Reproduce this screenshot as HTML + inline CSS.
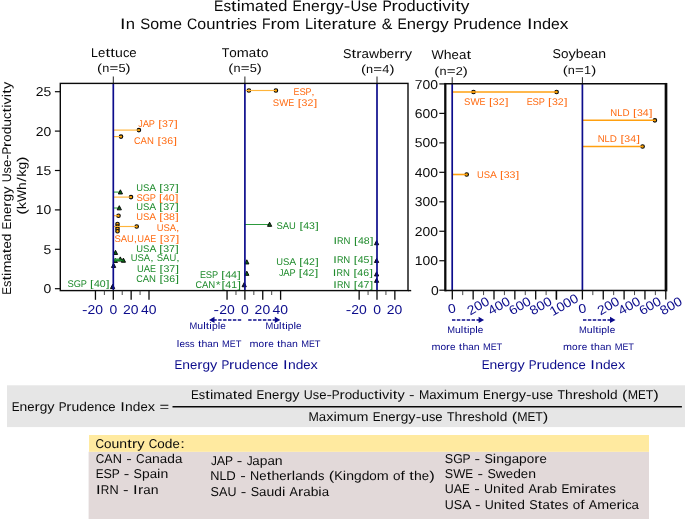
<!DOCTYPE html>
<html><head><meta charset="utf-8"><title>Energy-Use Productivity</title>
<style>
html,body{margin:0;padding:0;background:#fff;}
body{width:685px;height:519px;overflow:hidden;}
svg{display:block;font-family:"Liberation Sans",sans-serif;will-change:transform;text-rendering:geometricPrecision;}
</style></head><body>
<svg width="685" height="519" viewBox="0 0 685 519">
<rect x="0" y="0" width="685" height="519" fill="#ffffff"/>
<text y="11.10" font-size="15.22" fill="#0a0a0a"><tspan x="214.09" textLength="9.34" lengthAdjust="spacingAndGlyphs">E</tspan><tspan x="223.38" textLength="7.62" lengthAdjust="spacingAndGlyphs">s</tspan><tspan x="231.14" textLength="5.50" lengthAdjust="spacingAndGlyphs">t</tspan><tspan x="236.77" textLength="4.01" lengthAdjust="spacingAndGlyphs">i</tspan><tspan x="240.78" textLength="14.23" lengthAdjust="spacingAndGlyphs">m</tspan><tspan x="255.01" textLength="8.79" lengthAdjust="spacingAndGlyphs">a</tspan><tspan x="263.94" textLength="5.50" lengthAdjust="spacingAndGlyphs">t</tspan><tspan x="269.57" textLength="8.72" lengthAdjust="spacingAndGlyphs">e</tspan><tspan x="278.29" textLength="9.11" lengthAdjust="spacingAndGlyphs">d</tspan> <tspan x="292.51" textLength="9.34" lengthAdjust="spacingAndGlyphs">E</tspan><tspan x="301.80" textLength="9.26" lengthAdjust="spacingAndGlyphs">n</tspan><tspan x="311.06" textLength="8.72" lengthAdjust="spacingAndGlyphs">e</tspan><tspan x="319.78" textLength="6.25" lengthAdjust="spacingAndGlyphs">r</tspan><tspan x="326.03" textLength="9.11" lengthAdjust="spacingAndGlyphs">g</tspan><tspan x="335.14" textLength="8.66" lengthAdjust="spacingAndGlyphs">y</tspan><tspan x="343.83" textLength="6.59" lengthAdjust="spacingAndGlyphs">-</tspan><tspan x="350.45" textLength="10.71" lengthAdjust="spacingAndGlyphs">U</tspan><tspan x="361.16" textLength="7.62" lengthAdjust="spacingAndGlyphs">s</tspan><tspan x="368.78" textLength="8.72" lengthAdjust="spacingAndGlyphs">e</tspan> <tspan x="382.39" textLength="9.34" lengthAdjust="spacingAndGlyphs">P</tspan><tspan x="391.47" textLength="6.25" lengthAdjust="spacingAndGlyphs">r</tspan><tspan x="397.72" textLength="8.88" lengthAdjust="spacingAndGlyphs">o</tspan><tspan x="406.60" textLength="9.11" lengthAdjust="spacingAndGlyphs">d</tspan><tspan x="415.71" textLength="9.26" lengthAdjust="spacingAndGlyphs">u</tspan><tspan x="424.97" textLength="7.62" lengthAdjust="spacingAndGlyphs">c</tspan><tspan x="432.73" textLength="5.50" lengthAdjust="spacingAndGlyphs">t</tspan><tspan x="438.36" textLength="4.01" lengthAdjust="spacingAndGlyphs">i</tspan><tspan x="442.37" textLength="8.66" lengthAdjust="spacingAndGlyphs">v</tspan><tspan x="451.03" textLength="4.01" lengthAdjust="spacingAndGlyphs">i</tspan><tspan x="455.17" textLength="5.50" lengthAdjust="spacingAndGlyphs">t</tspan><tspan x="460.80" textLength="8.66" lengthAdjust="spacingAndGlyphs">y</tspan></text>
<text y="29.10" font-size="15.19" fill="#0a0a0a"><tspan x="119.96" textLength="5.49" lengthAdjust="spacingAndGlyphs">I</tspan><tspan x="125.78" textLength="9.25" lengthAdjust="spacingAndGlyphs">n</tspan> <tspan x="140.17" textLength="9.99" lengthAdjust="spacingAndGlyphs">S</tspan><tspan x="150.17" textLength="8.87" lengthAdjust="spacingAndGlyphs">o</tspan><tspan x="159.04" textLength="14.22" lengthAdjust="spacingAndGlyphs">m</tspan><tspan x="173.25" textLength="8.71" lengthAdjust="spacingAndGlyphs">e</tspan> <tspan x="187.10" textLength="10.20" lengthAdjust="spacingAndGlyphs">C</tspan><tspan x="197.30" textLength="8.87" lengthAdjust="spacingAndGlyphs">o</tspan><tspan x="206.17" textLength="9.25" lengthAdjust="spacingAndGlyphs">u</tspan><tspan x="215.42" textLength="9.25" lengthAdjust="spacingAndGlyphs">n</tspan><tspan x="224.80" textLength="5.49" lengthAdjust="spacingAndGlyphs">t</tspan><tspan x="230.42" textLength="6.24" lengthAdjust="spacingAndGlyphs">r</tspan><tspan x="236.66" textLength="4.00" lengthAdjust="spacingAndGlyphs">i</tspan><tspan x="240.66" textLength="8.71" lengthAdjust="spacingAndGlyphs">e</tspan><tspan x="249.37" textLength="7.61" lengthAdjust="spacingAndGlyphs">s</tspan> <tspan x="262.06" textLength="8.54" lengthAdjust="spacingAndGlyphs">F</tspan><tspan x="270.53" textLength="6.24" lengthAdjust="spacingAndGlyphs">r</tspan><tspan x="276.76" textLength="8.87" lengthAdjust="spacingAndGlyphs">o</tspan><tspan x="285.63" textLength="14.22" lengthAdjust="spacingAndGlyphs">m</tspan> <tspan x="304.99" textLength="8.14" lengthAdjust="spacingAndGlyphs">L</tspan><tspan x="313.13" textLength="4.00" lengthAdjust="spacingAndGlyphs">i</tspan><tspan x="317.27" textLength="5.49" lengthAdjust="spacingAndGlyphs">t</tspan><tspan x="322.89" textLength="8.71" lengthAdjust="spacingAndGlyphs">e</tspan><tspan x="331.59" textLength="6.24" lengthAdjust="spacingAndGlyphs">r</tspan><tspan x="337.83" textLength="8.78" lengthAdjust="spacingAndGlyphs">a</tspan><tspan x="346.75" textLength="5.49" lengthAdjust="spacingAndGlyphs">t</tspan><tspan x="352.37" textLength="9.25" lengthAdjust="spacingAndGlyphs">u</tspan><tspan x="361.62" textLength="6.24" lengthAdjust="spacingAndGlyphs">r</tspan><tspan x="367.86" textLength="8.71" lengthAdjust="spacingAndGlyphs">e</tspan> <tspan x="381.71" textLength="10.62" lengthAdjust="spacingAndGlyphs">&amp;</tspan> <tspan x="397.43" textLength="9.32" lengthAdjust="spacingAndGlyphs">E</tspan><tspan x="406.70" textLength="9.25" lengthAdjust="spacingAndGlyphs">n</tspan><tspan x="415.95" textLength="8.71" lengthAdjust="spacingAndGlyphs">e</tspan><tspan x="424.66" textLength="6.24" lengthAdjust="spacingAndGlyphs">r</tspan><tspan x="430.90" textLength="9.10" lengthAdjust="spacingAndGlyphs">g</tspan><tspan x="440.00" textLength="8.65" lengthAdjust="spacingAndGlyphs">y</tspan> <tspan x="453.54" textLength="9.32" lengthAdjust="spacingAndGlyphs">P</tspan><tspan x="462.60" textLength="6.24" lengthAdjust="spacingAndGlyphs">r</tspan><tspan x="468.84" textLength="9.25" lengthAdjust="spacingAndGlyphs">u</tspan><tspan x="478.09" textLength="9.10" lengthAdjust="spacingAndGlyphs">d</tspan><tspan x="487.19" textLength="8.71" lengthAdjust="spacingAndGlyphs">e</tspan><tspan x="495.90" textLength="9.25" lengthAdjust="spacingAndGlyphs">n</tspan><tspan x="505.15" textLength="7.61" lengthAdjust="spacingAndGlyphs">c</tspan><tspan x="512.76" textLength="8.71" lengthAdjust="spacingAndGlyphs">e</tspan> <tspan x="526.94" textLength="5.49" lengthAdjust="spacingAndGlyphs">I</tspan><tspan x="532.76" textLength="9.25" lengthAdjust="spacingAndGlyphs">n</tspan><tspan x="542.01" textLength="9.10" lengthAdjust="spacingAndGlyphs">d</tspan><tspan x="551.11" textLength="8.71" lengthAdjust="spacingAndGlyphs">e</tspan><tspan x="559.82" textLength="8.65" lengthAdjust="spacingAndGlyphs">x</tspan></text>
<text y="57.20" font-size="12.84" fill="#0a0a0a"><tspan x="91.11" textLength="6.88" lengthAdjust="spacingAndGlyphs">L</tspan><tspan x="97.99" textLength="7.36" lengthAdjust="spacingAndGlyphs">e</tspan><tspan x="105.46" textLength="4.64" lengthAdjust="spacingAndGlyphs">t</tspan><tspan x="110.33" textLength="4.64" lengthAdjust="spacingAndGlyphs">t</tspan><tspan x="115.08" textLength="7.82" lengthAdjust="spacingAndGlyphs">u</tspan><tspan x="122.90" textLength="6.43" lengthAdjust="spacingAndGlyphs">c</tspan><tspan x="129.33" textLength="7.36" lengthAdjust="spacingAndGlyphs">e</tspan></text>
<text y="72.30" font-size="11.65" fill="#0a0a0a"><tspan x="97.10" textLength="5.04" lengthAdjust="spacingAndGlyphs">(</tspan><tspan x="102.16" textLength="7.09" lengthAdjust="spacingAndGlyphs">n</tspan><tspan x="109.41" textLength="8.84" lengthAdjust="spacingAndGlyphs">=</tspan><tspan x="118.41" textLength="7.12" lengthAdjust="spacingAndGlyphs">5</tspan><tspan x="125.56" textLength="5.04" lengthAdjust="spacingAndGlyphs">)</tspan></text>
<text y="56.90" font-size="12.84" fill="#0a0a0a"><tspan x="221.70" textLength="7.61" lengthAdjust="spacingAndGlyphs">T</tspan><tspan x="229.30" textLength="7.50" lengthAdjust="spacingAndGlyphs">o</tspan><tspan x="236.80" textLength="12.02" lengthAdjust="spacingAndGlyphs">m</tspan><tspan x="248.82" textLength="7.42" lengthAdjust="spacingAndGlyphs">a</tspan><tspan x="256.35" textLength="4.64" lengthAdjust="spacingAndGlyphs">t</tspan><tspan x="261.11" textLength="7.50" lengthAdjust="spacingAndGlyphs">o</tspan></text>
<text y="72.20" font-size="11.65" fill="#0a0a0a"><tspan x="228.35" textLength="5.04" lengthAdjust="spacingAndGlyphs">(</tspan><tspan x="233.41" textLength="7.09" lengthAdjust="spacingAndGlyphs">n</tspan><tspan x="240.66" textLength="8.84" lengthAdjust="spacingAndGlyphs">=</tspan><tspan x="249.66" textLength="7.12" lengthAdjust="spacingAndGlyphs">5</tspan><tspan x="256.81" textLength="5.04" lengthAdjust="spacingAndGlyphs">)</tspan></text>
<text y="58.10" font-size="12.84" fill="#0a0a0a"><tspan x="343.04" textLength="8.45" lengthAdjust="spacingAndGlyphs">S</tspan><tspan x="351.60" textLength="4.64" lengthAdjust="spacingAndGlyphs">t</tspan><tspan x="356.35" textLength="5.27" lengthAdjust="spacingAndGlyphs">r</tspan><tspan x="361.62" textLength="7.42" lengthAdjust="spacingAndGlyphs">a</tspan><tspan x="369.05" textLength="10.10" lengthAdjust="spacingAndGlyphs">w</tspan><tspan x="379.15" textLength="7.69" lengthAdjust="spacingAndGlyphs">b</tspan><tspan x="386.84" textLength="7.36" lengthAdjust="spacingAndGlyphs">e</tspan><tspan x="394.20" textLength="5.27" lengthAdjust="spacingAndGlyphs">r</tspan><tspan x="399.48" textLength="5.27" lengthAdjust="spacingAndGlyphs">r</tspan><tspan x="404.75" textLength="7.31" lengthAdjust="spacingAndGlyphs">y</tspan></text>
<text y="73.40" font-size="11.65" fill="#0a0a0a"><tspan x="361.05" textLength="5.04" lengthAdjust="spacingAndGlyphs">(</tspan><tspan x="366.11" textLength="7.09" lengthAdjust="spacingAndGlyphs">n</tspan><tspan x="373.36" textLength="8.84" lengthAdjust="spacingAndGlyphs">=</tspan><tspan x="382.36" textLength="7.12" lengthAdjust="spacingAndGlyphs">4</tspan><tspan x="389.51" textLength="5.04" lengthAdjust="spacingAndGlyphs">)</tspan></text>
<text y="58.70" font-size="12.84" fill="#0a0a0a"><tspan x="431.56" textLength="12.21" lengthAdjust="spacingAndGlyphs">W</tspan><tspan x="443.77" textLength="7.82" lengthAdjust="spacingAndGlyphs">h</tspan><tspan x="451.59" textLength="7.36" lengthAdjust="spacingAndGlyphs">e</tspan><tspan x="458.95" textLength="7.42" lengthAdjust="spacingAndGlyphs">a</tspan><tspan x="466.49" textLength="4.64" lengthAdjust="spacingAndGlyphs">t</tspan></text>
<text y="74.50" font-size="11.65" fill="#0a0a0a"><tspan x="434.35" textLength="5.04" lengthAdjust="spacingAndGlyphs">(</tspan><tspan x="439.41" textLength="7.09" lengthAdjust="spacingAndGlyphs">n</tspan><tspan x="446.66" textLength="8.84" lengthAdjust="spacingAndGlyphs">=</tspan><tspan x="455.66" textLength="7.12" lengthAdjust="spacingAndGlyphs">2</tspan><tspan x="462.81" textLength="5.04" lengthAdjust="spacingAndGlyphs">)</tspan></text>
<text y="58.00" font-size="12.84" fill="#0a0a0a"><tspan x="552.53" textLength="8.45" lengthAdjust="spacingAndGlyphs">S</tspan><tspan x="560.97" textLength="7.50" lengthAdjust="spacingAndGlyphs">o</tspan><tspan x="568.47" textLength="7.31" lengthAdjust="spacingAndGlyphs">y</tspan><tspan x="575.78" textLength="7.69" lengthAdjust="spacingAndGlyphs">b</tspan><tspan x="583.47" textLength="7.36" lengthAdjust="spacingAndGlyphs">e</tspan><tspan x="590.83" textLength="7.42" lengthAdjust="spacingAndGlyphs">a</tspan><tspan x="598.26" textLength="7.82" lengthAdjust="spacingAndGlyphs">n</tspan></text>
<text y="73.80" font-size="11.65" fill="#0a0a0a"><tspan x="562.80" textLength="5.04" lengthAdjust="spacingAndGlyphs">(</tspan><tspan x="567.86" textLength="7.09" lengthAdjust="spacingAndGlyphs">n</tspan><tspan x="575.11" textLength="8.84" lengthAdjust="spacingAndGlyphs">=</tspan><tspan x="584.11" textLength="7.12" lengthAdjust="spacingAndGlyphs">1</tspan><tspan x="591.26" textLength="5.04" lengthAdjust="spacingAndGlyphs">)</tspan></text>
<g transform="translate(10.8,293.3) rotate(-90)">
<text y="0.00" font-size="12.69" fill="#0a0a0a"><tspan x="-1.49" textLength="7.79" lengthAdjust="spacingAndGlyphs">E</tspan><tspan x="6.25" textLength="6.36" lengthAdjust="spacingAndGlyphs">s</tspan><tspan x="12.72" textLength="4.58" lengthAdjust="spacingAndGlyphs">t</tspan><tspan x="17.42" textLength="3.34" lengthAdjust="spacingAndGlyphs">i</tspan><tspan x="20.76" textLength="11.87" lengthAdjust="spacingAndGlyphs">m</tspan><tspan x="32.63" textLength="7.33" lengthAdjust="spacingAndGlyphs">a</tspan><tspan x="40.07" textLength="4.58" lengthAdjust="spacingAndGlyphs">t</tspan><tspan x="44.77" textLength="7.27" lengthAdjust="spacingAndGlyphs">e</tspan><tspan x="52.04" textLength="7.60" lengthAdjust="spacingAndGlyphs">d</tspan> <tspan x="63.90" textLength="7.79" lengthAdjust="spacingAndGlyphs">E</tspan><tspan x="71.65" textLength="7.72" lengthAdjust="spacingAndGlyphs">n</tspan><tspan x="79.37" textLength="7.27" lengthAdjust="spacingAndGlyphs">e</tspan><tspan x="86.64" textLength="5.21" lengthAdjust="spacingAndGlyphs">r</tspan><tspan x="91.85" textLength="7.60" lengthAdjust="spacingAndGlyphs">g</tspan><tspan x="99.45" textLength="7.22" lengthAdjust="spacingAndGlyphs">y</tspan> <tspan x="110.97" textLength="8.93" lengthAdjust="spacingAndGlyphs">U</tspan><tspan x="119.90" textLength="6.36" lengthAdjust="spacingAndGlyphs">s</tspan><tspan x="126.25" textLength="7.27" lengthAdjust="spacingAndGlyphs">e</tspan><tspan x="133.55" textLength="5.49" lengthAdjust="spacingAndGlyphs">-</tspan><tspan x="138.85" textLength="7.79" lengthAdjust="spacingAndGlyphs">P</tspan><tspan x="146.42" textLength="5.21" lengthAdjust="spacingAndGlyphs">r</tspan><tspan x="151.63" textLength="7.41" lengthAdjust="spacingAndGlyphs">o</tspan><tspan x="159.03" textLength="7.60" lengthAdjust="spacingAndGlyphs">d</tspan><tspan x="166.63" textLength="7.72" lengthAdjust="spacingAndGlyphs">u</tspan><tspan x="174.36" textLength="6.36" lengthAdjust="spacingAndGlyphs">c</tspan><tspan x="180.83" textLength="4.58" lengthAdjust="spacingAndGlyphs">t</tspan><tspan x="185.52" textLength="3.34" lengthAdjust="spacingAndGlyphs">i</tspan><tspan x="188.86" textLength="7.22" lengthAdjust="spacingAndGlyphs">v</tspan><tspan x="196.09" textLength="3.34" lengthAdjust="spacingAndGlyphs">i</tspan><tspan x="199.54" textLength="4.58" lengthAdjust="spacingAndGlyphs">t</tspan><tspan x="204.23" textLength="7.22" lengthAdjust="spacingAndGlyphs">y</tspan></text>
</g>
<g transform="translate(26.1,214.6) rotate(-90)">
<text y="0.00" font-size="12.69" fill="#0a0a0a"><tspan x="-0.20" textLength="5.49" lengthAdjust="spacingAndGlyphs">(</tspan><tspan x="5.31" textLength="7.22" lengthAdjust="spacingAndGlyphs">k</tspan><tspan x="12.54" textLength="12.07" lengthAdjust="spacingAndGlyphs">W</tspan><tspan x="24.60" textLength="7.72" lengthAdjust="spacingAndGlyphs">h</tspan><tspan x="32.80" textLength="4.58" lengthAdjust="spacingAndGlyphs">/</tspan><tspan x="37.86" textLength="7.22" lengthAdjust="spacingAndGlyphs">k</tspan><tspan x="45.09" textLength="7.60" lengthAdjust="spacingAndGlyphs">g</tspan><tspan x="52.71" textLength="5.49" lengthAdjust="spacingAndGlyphs">)</tspan></text>
</g>
<circle cx="138.90" cy="130.10" r="1.75" fill="#ffa500" stroke="#0a0a0a" stroke-width="1.15"/>
<circle cx="121.00" cy="136.60" r="1.75" fill="#ffa500" stroke="#0a0a0a" stroke-width="1.15"/>
<line x1="113.30" y1="192.10" x2="120.40" y2="192.10" stroke="#5fb86c" stroke-width="1.4"/>
<path d="M118.30 193.94 L122.50 193.94 L120.40 189.80 Z" fill="#0a6a14" stroke="#0a0a0a" stroke-width="1.0" stroke-linejoin="miter"/>
<circle cx="131.00" cy="197.10" r="1.75" fill="#ffa500" stroke="#0a0a0a" stroke-width="1.15"/>
<line x1="113.30" y1="208.00" x2="119.30" y2="208.00" stroke="#5fb86c" stroke-width="1.4"/>
<path d="M117.20 209.84 L121.40 209.84 L119.30 205.70 Z" fill="#0a6a14" stroke="#0a0a0a" stroke-width="1.0" stroke-linejoin="miter"/>
<circle cx="118.50" cy="215.70" r="1.75" fill="#ffa500" stroke="#0a0a0a" stroke-width="1.15"/>
<circle cx="117.50" cy="224.00" r="1.75" fill="#ffa500" stroke="#0a0a0a" stroke-width="1.15"/>
<circle cx="117.50" cy="226.60" r="1.75" fill="#ffa500" stroke="#0a0a0a" stroke-width="1.15"/>
<circle cx="117.50" cy="228.90" r="1.75" fill="#ffa500" stroke="#0a0a0a" stroke-width="1.15"/>
<circle cx="117.50" cy="231.20" r="1.75" fill="#ffa500" stroke="#0a0a0a" stroke-width="1.15"/>
<circle cx="136.70" cy="226.50" r="1.75" fill="#ffa500" stroke="#0a0a0a" stroke-width="1.15"/>
<path d="M113.40 254.44 L117.60 254.44 L115.50 250.30 Z" fill="#0a6a14" stroke="#0a0a0a" stroke-width="1.0" stroke-linejoin="miter"/>
<path d="M113.30 262.44 L117.50 262.44 L115.40 258.30 Z" fill="#0a6a14" stroke="#0a0a0a" stroke-width="1.0" stroke-linejoin="miter"/>
<path d="M118.20 261.04 L122.40 261.04 L120.30 256.90 Z" fill="#0a6a14" stroke="#0a0a0a" stroke-width="1.0" stroke-linejoin="miter"/>
<path d="M121.30 262.24 L125.50 262.24 L123.40 258.10 Z" fill="#0a6a14" stroke="#0a0a0a" stroke-width="1.0" stroke-linejoin="miter"/>
<line x1="113.30" y1="259.20" x2="119.60" y2="259.20" stroke="#3fa64e" stroke-width="1.5"/>
<line x1="113.30" y1="260.40" x2="122.60" y2="260.40" stroke="#178a28" stroke-width="1.5"/>
<path d="M111.50 267.44 L115.70 267.44 L113.60 263.30 Z" fill="#0a1a5a" stroke="#0a0a0a" stroke-width="1.0" stroke-linejoin="miter"/>
<path d="M110.50 288.54 L114.70 288.54 L112.60 284.40 Z" fill="#0a1a5a" stroke="#0a0a0a" stroke-width="1.0" stroke-linejoin="miter"/>
<circle cx="248.90" cy="90.50" r="1.75" fill="#ffa500" stroke="#0a0a0a" stroke-width="1.15"/>
<circle cx="275.90" cy="90.50" r="1.75" fill="#ffa500" stroke="#0a0a0a" stroke-width="1.15"/>
<line x1="244.90" y1="224.50" x2="269.60" y2="224.50" stroke="#2c9a3c" stroke-width="1.0"/>
<path d="M267.50 226.34 L271.70 226.34 L269.60 222.20 Z" fill="#0a6a14" stroke="#0a0a0a" stroke-width="1.0" stroke-linejoin="miter"/>
<path d="M244.70 263.94 L248.90 263.94 L246.80 259.80 Z" fill="#0a6a14" stroke="#0a0a0a" stroke-width="1.0" stroke-linejoin="miter"/>
<path d="M244.70 275.34 L248.90 275.34 L246.80 271.20 Z" fill="#0a6a14" stroke="#0a0a0a" stroke-width="1.0" stroke-linejoin="miter"/>
<path d="M242.10 286.74 L246.30 286.74 L244.20 282.60 Z" fill="#0a1a5a" stroke="#0a0a0a" stroke-width="1.0" stroke-linejoin="miter"/>
<path d="M374.50 244.74 L378.70 244.74 L376.60 240.60 Z" fill="#0a1a5a" stroke="#0a0a0a" stroke-width="1.0" stroke-linejoin="miter"/>
<path d="M374.50 262.44 L378.70 262.44 L376.60 258.30 Z" fill="#0a1a5a" stroke="#0a0a0a" stroke-width="1.0" stroke-linejoin="miter"/>
<path d="M374.50 275.94 L378.70 275.94 L376.60 271.80 Z" fill="#0a1a5a" stroke="#0a0a0a" stroke-width="1.0" stroke-linejoin="miter"/>
<path d="M374.50 282.34 L378.70 282.34 L376.60 278.20 Z" fill="#0a1a5a" stroke="#0a0a0a" stroke-width="1.0" stroke-linejoin="miter"/>
<line x1="113.30" y1="130.10" x2="138.30" y2="130.10" stroke="#ffb43a" stroke-width="1.15"/>
<line x1="113.30" y1="136.60" x2="120.40" y2="136.60" stroke="#ffb43a" stroke-width="1.15"/>
<line x1="113.30" y1="197.10" x2="130.40" y2="197.10" stroke="#ffb43a" stroke-width="1.15"/>
<line x1="113.30" y1="215.70" x2="117.90" y2="215.70" stroke="#ffb43a" stroke-width="1.15"/>
<line x1="113.30" y1="226.50" x2="136.10" y2="226.50" stroke="#ffb43a" stroke-width="1.15"/>
<line x1="244.90" y1="90.50" x2="275.30" y2="90.50" stroke="#ffb43a" stroke-width="1.15"/>
<line x1="113.30" y1="76.50" x2="113.30" y2="83.40" stroke="#0a0a0a" stroke-width="0.9"/>
<line x1="113.30" y1="83.40" x2="113.30" y2="290.60" stroke="#0c0c8c" stroke-width="1.7"/>
<line x1="244.90" y1="76.50" x2="244.90" y2="83.40" stroke="#0a0a0a" stroke-width="0.9"/>
<line x1="244.90" y1="83.40" x2="244.90" y2="290.60" stroke="#0c0c8c" stroke-width="1.7"/>
<line x1="377.00" y1="76.50" x2="377.00" y2="83.40" stroke="#0a0a0a" stroke-width="0.9"/>
<line x1="377.00" y1="83.40" x2="377.00" y2="290.60" stroke="#0c0c8c" stroke-width="1.7"/>
<rect x="60.3" y="83.4" width="347.7" height="207.20000000000002" fill="none" stroke="#0a0a0a" stroke-width="1.4"/>
<line x1="408.00" y1="290.60" x2="411.20" y2="290.60" stroke="#0a0a0a" stroke-width="1.4"/>
<line x1="54.90" y1="288.70" x2="60.30" y2="288.70" stroke="#0a0a0a" stroke-width="1.2"/>
<line x1="54.90" y1="249.30" x2="60.30" y2="249.30" stroke="#0a0a0a" stroke-width="1.2"/>
<line x1="54.90" y1="209.90" x2="60.30" y2="209.90" stroke="#0a0a0a" stroke-width="1.2"/>
<line x1="54.90" y1="170.50" x2="60.30" y2="170.50" stroke="#0a0a0a" stroke-width="1.2"/>
<line x1="54.90" y1="131.10" x2="60.30" y2="131.10" stroke="#0a0a0a" stroke-width="1.2"/>
<line x1="54.90" y1="91.70" x2="60.30" y2="91.70" stroke="#0a0a0a" stroke-width="1.2"/>
<text y="96.15" font-size="12.87" fill="#0a0a0a"><tspan x="35.71" textLength="7.76" lengthAdjust="spacingAndGlyphs">2</tspan><tspan x="43.47" textLength="7.76" lengthAdjust="spacingAndGlyphs">5</tspan></text>
<text y="135.55" font-size="12.87" fill="#0a0a0a"><tspan x="35.71" textLength="7.76" lengthAdjust="spacingAndGlyphs">2</tspan><tspan x="43.47" textLength="7.76" lengthAdjust="spacingAndGlyphs">0</tspan></text>
<text y="174.95" font-size="12.87" fill="#0a0a0a"><tspan x="35.71" textLength="7.76" lengthAdjust="spacingAndGlyphs">1</tspan><tspan x="43.47" textLength="7.76" lengthAdjust="spacingAndGlyphs">5</tspan></text>
<text y="214.35" font-size="12.87" fill="#0a0a0a"><tspan x="35.71" textLength="7.76" lengthAdjust="spacingAndGlyphs">1</tspan><tspan x="43.47" textLength="7.76" lengthAdjust="spacingAndGlyphs">0</tspan></text>
<text y="253.75" font-size="12.87" fill="#0a0a0a"><tspan x="43.47" textLength="7.76" lengthAdjust="spacingAndGlyphs">5</tspan></text>
<text y="293.15" font-size="12.87" fill="#0a0a0a"><tspan x="43.47" textLength="7.76" lengthAdjust="spacingAndGlyphs">0</tspan></text>
<line x1="95.45" y1="290.60" x2="95.45" y2="299.80" stroke="#0a0a0a" stroke-width="1.3"/>
<line x1="113.30" y1="290.60" x2="113.30" y2="299.80" stroke="#0a0a0a" stroke-width="1.3"/>
<line x1="131.15" y1="290.60" x2="131.15" y2="299.80" stroke="#0a0a0a" stroke-width="1.3"/>
<line x1="149.00" y1="290.60" x2="149.00" y2="299.80" stroke="#0a0a0a" stroke-width="1.3"/>
<line x1="104.38" y1="290.60" x2="104.38" y2="295.00" stroke="#333" stroke-width="0.9"/>
<line x1="122.22" y1="290.60" x2="122.22" y2="295.00" stroke="#333" stroke-width="0.9"/>
<line x1="140.07" y1="290.60" x2="140.07" y2="295.00" stroke="#333" stroke-width="0.9"/>
<line x1="227.05" y1="290.60" x2="227.05" y2="299.80" stroke="#0a0a0a" stroke-width="1.3"/>
<line x1="244.90" y1="290.60" x2="244.90" y2="299.80" stroke="#0a0a0a" stroke-width="1.3"/>
<line x1="262.75" y1="290.60" x2="262.75" y2="299.80" stroke="#0a0a0a" stroke-width="1.3"/>
<line x1="280.60" y1="290.60" x2="280.60" y2="299.80" stroke="#0a0a0a" stroke-width="1.3"/>
<line x1="235.97" y1="290.60" x2="235.97" y2="295.00" stroke="#333" stroke-width="0.9"/>
<line x1="253.83" y1="290.60" x2="253.83" y2="295.00" stroke="#333" stroke-width="0.9"/>
<line x1="271.68" y1="290.60" x2="271.68" y2="295.00" stroke="#333" stroke-width="0.9"/>
<line x1="359.15" y1="290.60" x2="359.15" y2="299.80" stroke="#0a0a0a" stroke-width="1.3"/>
<line x1="377.00" y1="290.60" x2="377.00" y2="299.80" stroke="#0a0a0a" stroke-width="1.3"/>
<line x1="394.85" y1="290.60" x2="394.85" y2="299.80" stroke="#0a0a0a" stroke-width="1.3"/>
<line x1="368.07" y1="290.60" x2="368.07" y2="295.00" stroke="#333" stroke-width="0.9"/>
<line x1="385.93" y1="290.60" x2="385.93" y2="295.00" stroke="#333" stroke-width="0.9"/>
<text y="313.90" font-size="12.87" fill="#0c0c8c"><tspan x="82.02" textLength="5.54" lengthAdjust="spacingAndGlyphs">-</tspan><tspan x="87.56" textLength="7.76" lengthAdjust="spacingAndGlyphs">2</tspan><tspan x="95.32" textLength="7.76" lengthAdjust="spacingAndGlyphs">0</tspan></text>
<text y="313.90" font-size="12.87" fill="#0c0c8c"><tspan x="109.52" textLength="7.76" lengthAdjust="spacingAndGlyphs">0</tspan></text>
<text y="313.90" font-size="12.87" fill="#0c0c8c"><tspan x="123.04" textLength="7.76" lengthAdjust="spacingAndGlyphs">2</tspan><tspan x="130.80" textLength="7.76" lengthAdjust="spacingAndGlyphs">0</tspan></text>
<text y="313.90" font-size="12.87" fill="#0c0c8c"><tspan x="140.94" textLength="7.76" lengthAdjust="spacingAndGlyphs">4</tspan><tspan x="148.70" textLength="7.76" lengthAdjust="spacingAndGlyphs">0</tspan></text>
<text y="313.90" font-size="12.87" fill="#0c0c8c"><tspan x="213.62" textLength="5.54" lengthAdjust="spacingAndGlyphs">-</tspan><tspan x="219.16" textLength="7.76" lengthAdjust="spacingAndGlyphs">2</tspan><tspan x="226.92" textLength="7.76" lengthAdjust="spacingAndGlyphs">0</tspan></text>
<text y="313.90" font-size="12.87" fill="#0c0c8c"><tspan x="241.12" textLength="7.76" lengthAdjust="spacingAndGlyphs">0</tspan></text>
<text y="313.90" font-size="12.87" fill="#0c0c8c"><tspan x="254.64" textLength="7.76" lengthAdjust="spacingAndGlyphs">2</tspan><tspan x="262.40" textLength="7.76" lengthAdjust="spacingAndGlyphs">0</tspan></text>
<text y="313.90" font-size="12.87" fill="#0c0c8c"><tspan x="272.54" textLength="7.76" lengthAdjust="spacingAndGlyphs">4</tspan><tspan x="280.30" textLength="7.76" lengthAdjust="spacingAndGlyphs">0</tspan></text>
<text y="313.90" font-size="12.87" fill="#0c0c8c"><tspan x="345.72" textLength="5.54" lengthAdjust="spacingAndGlyphs">-</tspan><tspan x="351.26" textLength="7.76" lengthAdjust="spacingAndGlyphs">2</tspan><tspan x="359.02" textLength="7.76" lengthAdjust="spacingAndGlyphs">0</tspan></text>
<text y="313.90" font-size="12.87" fill="#0c0c8c"><tspan x="373.22" textLength="7.76" lengthAdjust="spacingAndGlyphs">0</tspan></text>
<text y="313.90" font-size="12.87" fill="#0c0c8c"><tspan x="386.74" textLength="7.76" lengthAdjust="spacingAndGlyphs">2</tspan><tspan x="394.50" textLength="7.76" lengthAdjust="spacingAndGlyphs">0</tspan></text>
<text y="126.50" font-size="9.76" fill="#ff6c14"><tspan x="138.34" textLength="4.49" lengthAdjust="spacingAndGlyphs">J</tspan><tspan x="142.69" textLength="6.33" lengthAdjust="spacingAndGlyphs">A</tspan><tspan x="148.81" textLength="5.99" lengthAdjust="spacingAndGlyphs">P</tspan> <tspan x="158.19" textLength="3.52" lengthAdjust="spacingAndGlyphs">[</tspan><tspan x="162.05" textLength="5.88" lengthAdjust="spacingAndGlyphs">3</tspan><tspan x="167.93" textLength="5.88" lengthAdjust="spacingAndGlyphs">7</tspan><tspan x="174.16" textLength="3.52" lengthAdjust="spacingAndGlyphs">]</tspan></text>
<text y="143.90" font-size="9.76" fill="#ff6c14"><tspan x="134.12" textLength="6.48" lengthAdjust="spacingAndGlyphs">C</tspan><tspan x="140.59" textLength="6.33" lengthAdjust="spacingAndGlyphs">A</tspan><tspan x="146.92" textLength="6.92" lengthAdjust="spacingAndGlyphs">N</tspan> <tspan x="157.43" textLength="3.52" lengthAdjust="spacingAndGlyphs">[</tspan><tspan x="161.30" textLength="5.88" lengthAdjust="spacingAndGlyphs">3</tspan><tspan x="167.18" textLength="5.88" lengthAdjust="spacingAndGlyphs">6</tspan><tspan x="173.40" textLength="3.52" lengthAdjust="spacingAndGlyphs">]</tspan></text>
<text y="190.80" font-size="9.76" fill="#1f8b2c"><tspan x="136.28" textLength="6.77" lengthAdjust="spacingAndGlyphs">U</tspan><tspan x="143.05" textLength="6.33" lengthAdjust="spacingAndGlyphs">S</tspan><tspan x="149.38" textLength="6.33" lengthAdjust="spacingAndGlyphs">A</tspan> <tspan x="159.30" textLength="3.52" lengthAdjust="spacingAndGlyphs">[</tspan><tspan x="163.16" textLength="5.88" lengthAdjust="spacingAndGlyphs">3</tspan><tspan x="169.04" textLength="5.88" lengthAdjust="spacingAndGlyphs">7</tspan><tspan x="175.26" textLength="3.52" lengthAdjust="spacingAndGlyphs">]</tspan></text>
<text y="200.80" font-size="9.76" fill="#ff6c14"><tspan x="136.45" textLength="6.33" lengthAdjust="spacingAndGlyphs">S</tspan><tspan x="142.78" textLength="7.17" lengthAdjust="spacingAndGlyphs">G</tspan><tspan x="149.74" textLength="5.99" lengthAdjust="spacingAndGlyphs">P</tspan> <tspan x="159.12" textLength="3.52" lengthAdjust="spacingAndGlyphs">[</tspan><tspan x="162.98" textLength="5.88" lengthAdjust="spacingAndGlyphs">4</tspan><tspan x="168.86" textLength="5.88" lengthAdjust="spacingAndGlyphs">0</tspan><tspan x="175.09" textLength="3.52" lengthAdjust="spacingAndGlyphs">]</tspan></text>
<text y="210.00" font-size="9.76" fill="#1f8b2c"><tspan x="136.28" textLength="6.77" lengthAdjust="spacingAndGlyphs">U</tspan><tspan x="143.05" textLength="6.33" lengthAdjust="spacingAndGlyphs">S</tspan><tspan x="149.38" textLength="6.33" lengthAdjust="spacingAndGlyphs">A</tspan> <tspan x="159.30" textLength="3.52" lengthAdjust="spacingAndGlyphs">[</tspan><tspan x="163.16" textLength="5.88" lengthAdjust="spacingAndGlyphs">3</tspan><tspan x="169.04" textLength="5.88" lengthAdjust="spacingAndGlyphs">7</tspan><tspan x="175.26" textLength="3.52" lengthAdjust="spacingAndGlyphs">]</tspan></text>
<text y="219.70" font-size="9.76" fill="#ff6c14"><tspan x="136.28" textLength="6.77" lengthAdjust="spacingAndGlyphs">U</tspan><tspan x="143.05" textLength="6.33" lengthAdjust="spacingAndGlyphs">S</tspan><tspan x="149.38" textLength="6.33" lengthAdjust="spacingAndGlyphs">A</tspan> <tspan x="159.30" textLength="3.52" lengthAdjust="spacingAndGlyphs">[</tspan><tspan x="163.16" textLength="5.88" lengthAdjust="spacingAndGlyphs">3</tspan><tspan x="169.04" textLength="5.88" lengthAdjust="spacingAndGlyphs">8</tspan><tspan x="175.26" textLength="3.52" lengthAdjust="spacingAndGlyphs">]</tspan></text>
<text y="230.60" font-size="9.76" fill="#ff6c14"><tspan x="156.70" textLength="6.77" lengthAdjust="spacingAndGlyphs">U</tspan><tspan x="163.48" textLength="6.33" lengthAdjust="spacingAndGlyphs">S</tspan><tspan x="169.80" textLength="6.33" lengthAdjust="spacingAndGlyphs">A</tspan><tspan x="176.13" textLength="3.37" lengthAdjust="spacingAndGlyphs">,</tspan></text>
<text y="242.10" font-size="9.76" fill="#ff6c14"><tspan x="114.42" textLength="6.33" lengthAdjust="spacingAndGlyphs">S</tspan><tspan x="120.75" textLength="6.33" lengthAdjust="spacingAndGlyphs">A</tspan><tspan x="127.08" textLength="6.77" lengthAdjust="spacingAndGlyphs">U</tspan><tspan x="133.85" textLength="3.37" lengthAdjust="spacingAndGlyphs">,</tspan><tspan x="137.21" textLength="6.77" lengthAdjust="spacingAndGlyphs">U</tspan><tspan x="143.98" textLength="6.33" lengthAdjust="spacingAndGlyphs">A</tspan><tspan x="150.24" textLength="5.99" lengthAdjust="spacingAndGlyphs">E</tspan> <tspan x="159.75" textLength="3.52" lengthAdjust="spacingAndGlyphs">[</tspan><tspan x="163.61" textLength="5.88" lengthAdjust="spacingAndGlyphs">3</tspan><tspan x="169.50" textLength="5.88" lengthAdjust="spacingAndGlyphs">7</tspan><tspan x="175.72" textLength="3.52" lengthAdjust="spacingAndGlyphs">]</tspan></text>
<text y="252.00" font-size="9.76" fill="#1f8b2c"><tspan x="136.33" textLength="6.77" lengthAdjust="spacingAndGlyphs">U</tspan><tspan x="143.10" textLength="6.33" lengthAdjust="spacingAndGlyphs">S</tspan><tspan x="149.43" textLength="6.33" lengthAdjust="spacingAndGlyphs">A</tspan> <tspan x="159.35" textLength="3.52" lengthAdjust="spacingAndGlyphs">[</tspan><tspan x="163.21" textLength="5.88" lengthAdjust="spacingAndGlyphs">3</tspan><tspan x="169.09" textLength="5.88" lengthAdjust="spacingAndGlyphs">7</tspan><tspan x="175.31" textLength="3.52" lengthAdjust="spacingAndGlyphs">]</tspan></text>
<text y="261.10" font-size="9.76" fill="#1f8b2c"><tspan x="130.73" textLength="6.77" lengthAdjust="spacingAndGlyphs">U</tspan><tspan x="137.50" textLength="6.33" lengthAdjust="spacingAndGlyphs">S</tspan><tspan x="143.83" textLength="6.33" lengthAdjust="spacingAndGlyphs">A</tspan><tspan x="150.15" textLength="3.37" lengthAdjust="spacingAndGlyphs">,</tspan> <tspan x="156.78" textLength="6.33" lengthAdjust="spacingAndGlyphs">S</tspan><tspan x="163.10" textLength="6.33" lengthAdjust="spacingAndGlyphs">A</tspan><tspan x="169.43" textLength="6.77" lengthAdjust="spacingAndGlyphs">U</tspan><tspan x="176.20" textLength="3.37" lengthAdjust="spacingAndGlyphs">,</tspan></text>
<text y="271.90" font-size="9.76" fill="#1f8b2c"><tspan x="137.02" textLength="6.77" lengthAdjust="spacingAndGlyphs">U</tspan><tspan x="143.79" textLength="6.33" lengthAdjust="spacingAndGlyphs">A</tspan><tspan x="150.04" textLength="5.99" lengthAdjust="spacingAndGlyphs">E</tspan> <tspan x="159.55" textLength="3.52" lengthAdjust="spacingAndGlyphs">[</tspan><tspan x="163.42" textLength="5.88" lengthAdjust="spacingAndGlyphs">3</tspan><tspan x="169.30" textLength="5.88" lengthAdjust="spacingAndGlyphs">7</tspan><tspan x="175.52" textLength="3.52" lengthAdjust="spacingAndGlyphs">]</tspan></text>
<text y="281.60" font-size="9.76" fill="#1f8b2c"><tspan x="136.17" textLength="6.48" lengthAdjust="spacingAndGlyphs">C</tspan><tspan x="142.64" textLength="6.33" lengthAdjust="spacingAndGlyphs">A</tspan><tspan x="148.97" textLength="6.92" lengthAdjust="spacingAndGlyphs">N</tspan> <tspan x="159.48" textLength="3.52" lengthAdjust="spacingAndGlyphs">[</tspan><tspan x="163.35" textLength="5.88" lengthAdjust="spacingAndGlyphs">3</tspan><tspan x="169.23" textLength="5.88" lengthAdjust="spacingAndGlyphs">6</tspan><tspan x="175.45" textLength="3.52" lengthAdjust="spacingAndGlyphs">]</tspan></text>
<text y="286.70" font-size="9.76" fill="#1f8b2c"><tspan x="67.40" textLength="6.33" lengthAdjust="spacingAndGlyphs">S</tspan><tspan x="73.73" textLength="7.17" lengthAdjust="spacingAndGlyphs">G</tspan><tspan x="80.69" textLength="5.99" lengthAdjust="spacingAndGlyphs">P</tspan> <tspan x="90.07" textLength="3.52" lengthAdjust="spacingAndGlyphs">[</tspan><tspan x="93.93" textLength="5.88" lengthAdjust="spacingAndGlyphs">4</tspan><tspan x="99.81" textLength="5.88" lengthAdjust="spacingAndGlyphs">0</tspan><tspan x="106.04" textLength="3.52" lengthAdjust="spacingAndGlyphs">]</tspan></text>
<text y="94.60" font-size="9.76" fill="#ff6c14"><tspan x="293.52" textLength="5.99" lengthAdjust="spacingAndGlyphs">E</tspan><tspan x="299.44" textLength="6.33" lengthAdjust="spacingAndGlyphs">S</tspan><tspan x="305.56" textLength="5.99" lengthAdjust="spacingAndGlyphs">P</tspan><tspan x="311.34" textLength="3.37" lengthAdjust="spacingAndGlyphs">,</tspan></text>
<text y="106.00" font-size="9.76" fill="#ff6c14"><tspan x="272.83" textLength="6.33" lengthAdjust="spacingAndGlyphs">S</tspan><tspan x="279.16" textLength="9.15" lengthAdjust="spacingAndGlyphs">W</tspan><tspan x="288.23" textLength="5.99" lengthAdjust="spacingAndGlyphs">E</tspan> <tspan x="297.74" textLength="3.52" lengthAdjust="spacingAndGlyphs">[</tspan><tspan x="301.61" textLength="5.88" lengthAdjust="spacingAndGlyphs">3</tspan><tspan x="307.49" textLength="5.88" lengthAdjust="spacingAndGlyphs">2</tspan><tspan x="313.71" textLength="3.52" lengthAdjust="spacingAndGlyphs">]</tspan></text>
<text y="228.80" font-size="9.76" fill="#1f8b2c"><tspan x="276.38" textLength="6.33" lengthAdjust="spacingAndGlyphs">S</tspan><tspan x="282.70" textLength="6.33" lengthAdjust="spacingAndGlyphs">A</tspan><tspan x="289.03" textLength="6.77" lengthAdjust="spacingAndGlyphs">U</tspan> <tspan x="299.40" textLength="3.52" lengthAdjust="spacingAndGlyphs">[</tspan><tspan x="303.26" textLength="5.88" lengthAdjust="spacingAndGlyphs">4</tspan><tspan x="309.14" textLength="5.88" lengthAdjust="spacingAndGlyphs">3</tspan><tspan x="315.36" textLength="3.52" lengthAdjust="spacingAndGlyphs">]</tspan></text>
<text y="264.50" font-size="9.76" fill="#1f8b2c"><tspan x="276.28" textLength="6.77" lengthAdjust="spacingAndGlyphs">U</tspan><tspan x="283.05" textLength="6.33" lengthAdjust="spacingAndGlyphs">S</tspan><tspan x="289.38" textLength="6.33" lengthAdjust="spacingAndGlyphs">A</tspan> <tspan x="299.30" textLength="3.52" lengthAdjust="spacingAndGlyphs">[</tspan><tspan x="303.16" textLength="5.88" lengthAdjust="spacingAndGlyphs">4</tspan><tspan x="309.04" textLength="5.88" lengthAdjust="spacingAndGlyphs">2</tspan><tspan x="315.26" textLength="3.52" lengthAdjust="spacingAndGlyphs">]</tspan></text>
<text y="275.90" font-size="9.76" fill="#1f8b2c"><tspan x="278.99" textLength="4.49" lengthAdjust="spacingAndGlyphs">J</tspan><tspan x="283.34" textLength="6.33" lengthAdjust="spacingAndGlyphs">A</tspan><tspan x="289.46" textLength="5.99" lengthAdjust="spacingAndGlyphs">P</tspan> <tspan x="298.84" textLength="3.52" lengthAdjust="spacingAndGlyphs">[</tspan><tspan x="302.70" textLength="5.88" lengthAdjust="spacingAndGlyphs">4</tspan><tspan x="308.58" textLength="5.88" lengthAdjust="spacingAndGlyphs">2</tspan><tspan x="314.81" textLength="3.52" lengthAdjust="spacingAndGlyphs">]</tspan></text>
<text y="277.90" font-size="9.76" fill="#1f8b2c"><tspan x="199.94" textLength="5.99" lengthAdjust="spacingAndGlyphs">E</tspan><tspan x="205.86" textLength="6.33" lengthAdjust="spacingAndGlyphs">S</tspan><tspan x="211.98" textLength="5.99" lengthAdjust="spacingAndGlyphs">P</tspan> <tspan x="221.36" textLength="3.52" lengthAdjust="spacingAndGlyphs">[</tspan><tspan x="225.22" textLength="5.88" lengthAdjust="spacingAndGlyphs">4</tspan><tspan x="231.10" textLength="5.88" lengthAdjust="spacingAndGlyphs">4</tspan><tspan x="237.32" textLength="3.52" lengthAdjust="spacingAndGlyphs">]</tspan></text>
<text y="287.70" font-size="9.76" fill="#1f8b2c"><tspan x="195.51" textLength="6.48" lengthAdjust="spacingAndGlyphs">C</tspan><tspan x="201.98" textLength="6.33" lengthAdjust="spacingAndGlyphs">A</tspan><tspan x="208.31" textLength="6.92" lengthAdjust="spacingAndGlyphs">N</tspan><tspan x="215.70" textLength="4.94" lengthAdjust="spacingAndGlyphs">*</tspan><tspan x="221.45" textLength="3.52" lengthAdjust="spacingAndGlyphs">[</tspan><tspan x="225.31" textLength="5.88" lengthAdjust="spacingAndGlyphs">4</tspan><tspan x="231.19" textLength="5.88" lengthAdjust="spacingAndGlyphs">1</tspan><tspan x="237.41" textLength="3.52" lengthAdjust="spacingAndGlyphs">]</tspan></text>
<text y="243.90" font-size="9.76" fill="#1f8b2c"><tspan x="333.40" textLength="3.52" lengthAdjust="spacingAndGlyphs">I</tspan><tspan x="337.09" textLength="6.48" lengthAdjust="spacingAndGlyphs">R</tspan><tspan x="343.54" textLength="6.92" lengthAdjust="spacingAndGlyphs">N</tspan> <tspan x="354.05" textLength="3.52" lengthAdjust="spacingAndGlyphs">[</tspan><tspan x="357.92" textLength="5.88" lengthAdjust="spacingAndGlyphs">4</tspan><tspan x="363.80" textLength="5.88" lengthAdjust="spacingAndGlyphs">8</tspan><tspan x="370.02" textLength="3.52" lengthAdjust="spacingAndGlyphs">]</tspan></text>
<text y="262.60" font-size="9.76" fill="#1f8b2c"><tspan x="333.20" textLength="3.52" lengthAdjust="spacingAndGlyphs">I</tspan><tspan x="336.89" textLength="6.48" lengthAdjust="spacingAndGlyphs">R</tspan><tspan x="343.34" textLength="6.92" lengthAdjust="spacingAndGlyphs">N</tspan> <tspan x="353.85" textLength="3.52" lengthAdjust="spacingAndGlyphs">[</tspan><tspan x="357.72" textLength="5.88" lengthAdjust="spacingAndGlyphs">4</tspan><tspan x="363.60" textLength="5.88" lengthAdjust="spacingAndGlyphs">5</tspan><tspan x="369.82" textLength="3.52" lengthAdjust="spacingAndGlyphs">]</tspan></text>
<text y="275.50" font-size="9.76" fill="#1f8b2c"><tspan x="332.85" textLength="3.52" lengthAdjust="spacingAndGlyphs">I</tspan><tspan x="336.54" textLength="6.48" lengthAdjust="spacingAndGlyphs">R</tspan><tspan x="342.99" textLength="6.92" lengthAdjust="spacingAndGlyphs">N</tspan> <tspan x="353.50" textLength="3.52" lengthAdjust="spacingAndGlyphs">[</tspan><tspan x="357.37" textLength="5.88" lengthAdjust="spacingAndGlyphs">4</tspan><tspan x="363.25" textLength="5.88" lengthAdjust="spacingAndGlyphs">6</tspan><tspan x="369.47" textLength="3.52" lengthAdjust="spacingAndGlyphs">]</tspan></text>
<text y="287.60" font-size="9.76" fill="#1f8b2c"><tspan x="333.20" textLength="3.52" lengthAdjust="spacingAndGlyphs">I</tspan><tspan x="336.89" textLength="6.48" lengthAdjust="spacingAndGlyphs">R</tspan><tspan x="343.34" textLength="6.92" lengthAdjust="spacingAndGlyphs">N</tspan> <tspan x="353.85" textLength="3.52" lengthAdjust="spacingAndGlyphs">[</tspan><tspan x="357.72" textLength="5.88" lengthAdjust="spacingAndGlyphs">4</tspan><tspan x="363.60" textLength="5.88" lengthAdjust="spacingAndGlyphs">7</tspan><tspan x="369.82" textLength="3.52" lengthAdjust="spacingAndGlyphs">]</tspan></text>
<line x1="241.20" y1="319.90" x2="214.00" y2="319.90" stroke="#0c0c8c" stroke-width="1.5" stroke-dasharray="3.4 1.5"/>
<path d="M209.00 319.90 L214.50 316.70 L214.50 323.10 Z" fill="#0c0c8c"/>
<line x1="248.20" y1="319.90" x2="275.30" y2="319.90" stroke="#0c0c8c" stroke-width="1.5" stroke-dasharray="3.4 1.5"/>
<path d="M280.30 319.90 L274.80 316.70 L274.80 323.10 Z" fill="#0c0c8c"/>
<text y="328.90" font-size="9.62" fill="#0c0c8c"><tspan x="189.56" textLength="7.80" lengthAdjust="spacingAndGlyphs">M</tspan><tspan x="197.36" textLength="5.86" lengthAdjust="spacingAndGlyphs">u</tspan><tspan x="203.21" textLength="2.53" lengthAdjust="spacingAndGlyphs">l</tspan><tspan x="205.83" textLength="3.47" lengthAdjust="spacingAndGlyphs">t</tspan><tspan x="209.39" textLength="2.53" lengthAdjust="spacingAndGlyphs">i</tspan><tspan x="211.93" textLength="5.76" lengthAdjust="spacingAndGlyphs">p</tspan><tspan x="217.69" textLength="2.53" lengthAdjust="spacingAndGlyphs">l</tspan><tspan x="220.23" textLength="5.51" lengthAdjust="spacingAndGlyphs">e</tspan></text>
<text y="328.90" font-size="9.62" fill="#0c0c8c"><tspan x="265.41" textLength="7.80" lengthAdjust="spacingAndGlyphs">M</tspan><tspan x="273.21" textLength="5.86" lengthAdjust="spacingAndGlyphs">u</tspan><tspan x="279.06" textLength="2.53" lengthAdjust="spacingAndGlyphs">l</tspan><tspan x="281.68" textLength="3.47" lengthAdjust="spacingAndGlyphs">t</tspan><tspan x="285.24" textLength="2.53" lengthAdjust="spacingAndGlyphs">i</tspan><tspan x="287.78" textLength="5.76" lengthAdjust="spacingAndGlyphs">p</tspan><tspan x="293.54" textLength="2.53" lengthAdjust="spacingAndGlyphs">l</tspan><tspan x="296.08" textLength="5.51" lengthAdjust="spacingAndGlyphs">e</tspan></text>
<text y="346.80" font-size="9.62" fill="#0c0c8c"><tspan x="176.87" textLength="2.53" lengthAdjust="spacingAndGlyphs">l</tspan><tspan x="179.41" textLength="5.51" lengthAdjust="spacingAndGlyphs">e</tspan><tspan x="184.92" textLength="4.82" lengthAdjust="spacingAndGlyphs">s</tspan><tspan x="189.74" textLength="4.82" lengthAdjust="spacingAndGlyphs">s</tspan> <tspan x="197.90" textLength="3.47" lengthAdjust="spacingAndGlyphs">t</tspan><tspan x="201.46" textLength="5.86" lengthAdjust="spacingAndGlyphs">h</tspan><tspan x="207.31" textLength="5.56" lengthAdjust="spacingAndGlyphs">a</tspan><tspan x="212.87" textLength="5.86" lengthAdjust="spacingAndGlyphs">n</tspan> <tspan x="221.99" textLength="7.80" lengthAdjust="spacingAndGlyphs">M</tspan><tspan x="229.75" textLength="5.90" lengthAdjust="spacingAndGlyphs">E</tspan><tspan x="235.63" textLength="5.70" lengthAdjust="spacingAndGlyphs">T</tspan></text>
<text y="346.80" font-size="9.62" fill="#0c0c8c"><tspan x="249.63" textLength="9.00" lengthAdjust="spacingAndGlyphs">m</tspan><tspan x="258.63" textLength="5.61" lengthAdjust="spacingAndGlyphs">o</tspan><tspan x="264.24" textLength="3.95" lengthAdjust="spacingAndGlyphs">r</tspan><tspan x="268.19" textLength="5.51" lengthAdjust="spacingAndGlyphs">e</tspan> <tspan x="277.05" textLength="3.47" lengthAdjust="spacingAndGlyphs">t</tspan><tspan x="280.61" textLength="5.86" lengthAdjust="spacingAndGlyphs">h</tspan><tspan x="286.46" textLength="5.56" lengthAdjust="spacingAndGlyphs">a</tspan><tspan x="292.02" textLength="5.86" lengthAdjust="spacingAndGlyphs">n</tspan> <tspan x="301.13" textLength="7.80" lengthAdjust="spacingAndGlyphs">M</tspan><tspan x="308.90" textLength="5.90" lengthAdjust="spacingAndGlyphs">E</tspan><tspan x="314.77" textLength="5.70" lengthAdjust="spacingAndGlyphs">T</tspan></text>
<text y="368.60" font-size="12.74" fill="#0c0c8c"><tspan x="174.43" textLength="7.82" lengthAdjust="spacingAndGlyphs">E</tspan><tspan x="182.20" textLength="7.75" lengthAdjust="spacingAndGlyphs">n</tspan><tspan x="189.96" textLength="7.30" lengthAdjust="spacingAndGlyphs">e</tspan><tspan x="197.26" textLength="5.23" lengthAdjust="spacingAndGlyphs">r</tspan><tspan x="202.49" textLength="7.63" lengthAdjust="spacingAndGlyphs">g</tspan><tspan x="210.12" textLength="7.25" lengthAdjust="spacingAndGlyphs">y</tspan> <tspan x="221.47" textLength="7.82" lengthAdjust="spacingAndGlyphs">P</tspan><tspan x="229.07" textLength="5.23" lengthAdjust="spacingAndGlyphs">r</tspan><tspan x="234.30" textLength="7.75" lengthAdjust="spacingAndGlyphs">u</tspan><tspan x="242.06" textLength="7.63" lengthAdjust="spacingAndGlyphs">d</tspan><tspan x="249.69" textLength="7.30" lengthAdjust="spacingAndGlyphs">e</tspan><tspan x="256.99" textLength="7.75" lengthAdjust="spacingAndGlyphs">n</tspan><tspan x="264.75" textLength="6.38" lengthAdjust="spacingAndGlyphs">c</tspan><tspan x="271.13" textLength="7.30" lengthAdjust="spacingAndGlyphs">e</tspan> <tspan x="283.02" textLength="4.60" lengthAdjust="spacingAndGlyphs">I</tspan><tspan x="287.90" textLength="7.75" lengthAdjust="spacingAndGlyphs">n</tspan><tspan x="295.65" textLength="7.63" lengthAdjust="spacingAndGlyphs">d</tspan><tspan x="303.28" textLength="7.30" lengthAdjust="spacingAndGlyphs">e</tspan><tspan x="310.58" textLength="7.25" lengthAdjust="spacingAndGlyphs">x</tspan></text>
<circle cx="473.50" cy="92.00" r="1.75" fill="#ffa500" stroke="#0a0a0a" stroke-width="1.15"/>
<circle cx="556.60" cy="92.00" r="1.75" fill="#ffa500" stroke="#0a0a0a" stroke-width="1.15"/>
<circle cx="466.70" cy="174.50" r="1.75" fill="#ffa500" stroke="#0a0a0a" stroke-width="1.15"/>
<circle cx="654.90" cy="120.30" r="1.75" fill="#ffa500" stroke="#0a0a0a" stroke-width="1.15"/>
<circle cx="642.60" cy="146.50" r="1.75" fill="#ffa500" stroke="#0a0a0a" stroke-width="1.15"/>
<line x1="452.30" y1="92.00" x2="556.00" y2="92.00" stroke="#ffa010" stroke-width="1.6"/>
<line x1="452.30" y1="174.50" x2="466.10" y2="174.50" stroke="#ffa010" stroke-width="1.6"/>
<line x1="582.40" y1="120.30" x2="654.30" y2="120.30" stroke="#ffa010" stroke-width="1.6"/>
<line x1="582.40" y1="146.50" x2="642.00" y2="146.50" stroke="#ffa010" stroke-width="1.6"/>
<line x1="452.20" y1="77.20" x2="452.20" y2="83.70" stroke="#0a0a0a" stroke-width="0.9"/>
<line x1="452.20" y1="83.70" x2="452.20" y2="290.60" stroke="#0c0c8c" stroke-width="1.7"/>
<line x1="582.40" y1="77.20" x2="582.40" y2="83.70" stroke="#0a0a0a" stroke-width="0.9"/>
<line x1="582.40" y1="83.70" x2="582.40" y2="290.60" stroke="#0c0c8c" stroke-width="1.7"/>
<line x1="445.30" y1="83.70" x2="666.00" y2="83.70" stroke="#0a0a0a" stroke-width="1.5"/>
<line x1="445.30" y1="290.60" x2="666.00" y2="290.60" stroke="#0a0a0a" stroke-width="1.5"/>
<line x1="445.30" y1="82.95" x2="445.30" y2="291.35" stroke="#0a0a0a" stroke-width="2.3"/>
<line x1="666.00" y1="82.95" x2="666.00" y2="291.35" stroke="#0a0a0a" stroke-width="2.7"/>
<line x1="439.30" y1="290.20" x2="445.30" y2="290.20" stroke="#0a0a0a" stroke-width="1.2"/>
<text y="294.60" font-size="12.87" fill="#0a0a0a"><tspan x="431.07" textLength="7.76" lengthAdjust="spacingAndGlyphs">0</tspan></text>
<line x1="439.30" y1="260.73" x2="445.30" y2="260.73" stroke="#0a0a0a" stroke-width="1.2"/>
<text y="265.13" font-size="12.87" fill="#0a0a0a"><tspan x="414.81" textLength="7.76" lengthAdjust="spacingAndGlyphs">1</tspan><tspan x="422.57" textLength="7.76" lengthAdjust="spacingAndGlyphs">0</tspan><tspan x="430.33" textLength="7.76" lengthAdjust="spacingAndGlyphs">0</tspan></text>
<line x1="439.30" y1="231.26" x2="445.30" y2="231.26" stroke="#0a0a0a" stroke-width="1.2"/>
<text y="235.66" font-size="12.87" fill="#0a0a0a"><tspan x="414.81" textLength="7.76" lengthAdjust="spacingAndGlyphs">2</tspan><tspan x="422.57" textLength="7.76" lengthAdjust="spacingAndGlyphs">0</tspan><tspan x="430.33" textLength="7.76" lengthAdjust="spacingAndGlyphs">0</tspan></text>
<line x1="439.30" y1="201.79" x2="445.30" y2="201.79" stroke="#0a0a0a" stroke-width="1.2"/>
<text y="206.19" font-size="12.87" fill="#0a0a0a"><tspan x="414.81" textLength="7.76" lengthAdjust="spacingAndGlyphs">3</tspan><tspan x="422.57" textLength="7.76" lengthAdjust="spacingAndGlyphs">0</tspan><tspan x="430.33" textLength="7.76" lengthAdjust="spacingAndGlyphs">0</tspan></text>
<line x1="439.30" y1="172.32" x2="445.30" y2="172.32" stroke="#0a0a0a" stroke-width="1.2"/>
<text y="176.72" font-size="12.87" fill="#0a0a0a"><tspan x="414.81" textLength="7.76" lengthAdjust="spacingAndGlyphs">4</tspan><tspan x="422.57" textLength="7.76" lengthAdjust="spacingAndGlyphs">0</tspan><tspan x="430.33" textLength="7.76" lengthAdjust="spacingAndGlyphs">0</tspan></text>
<line x1="439.30" y1="142.85" x2="445.30" y2="142.85" stroke="#0a0a0a" stroke-width="1.2"/>
<text y="147.25" font-size="12.87" fill="#0a0a0a"><tspan x="414.81" textLength="7.76" lengthAdjust="spacingAndGlyphs">5</tspan><tspan x="422.57" textLength="7.76" lengthAdjust="spacingAndGlyphs">0</tspan><tspan x="430.33" textLength="7.76" lengthAdjust="spacingAndGlyphs">0</tspan></text>
<line x1="439.30" y1="113.38" x2="445.30" y2="113.38" stroke="#0a0a0a" stroke-width="1.2"/>
<text y="117.78" font-size="12.87" fill="#0a0a0a"><tspan x="414.81" textLength="7.76" lengthAdjust="spacingAndGlyphs">6</tspan><tspan x="422.57" textLength="7.76" lengthAdjust="spacingAndGlyphs">0</tspan><tspan x="430.33" textLength="7.76" lengthAdjust="spacingAndGlyphs">0</tspan></text>
<line x1="439.30" y1="83.91" x2="445.30" y2="83.91" stroke="#0a0a0a" stroke-width="1.2"/>
<text y="89.11" font-size="12.87" fill="#0a0a0a"><tspan x="414.81" textLength="7.76" lengthAdjust="spacingAndGlyphs">7</tspan><tspan x="422.57" textLength="7.76" lengthAdjust="spacingAndGlyphs">0</tspan><tspan x="430.33" textLength="7.76" lengthAdjust="spacingAndGlyphs">0</tspan></text>
<line x1="452.30" y1="290.60" x2="452.30" y2="299.60" stroke="#0a0a0a" stroke-width="1.3"/>
<line x1="462.72" y1="290.60" x2="462.72" y2="295.10" stroke="#333" stroke-width="0.9"/>
<line x1="473.15" y1="290.60" x2="473.15" y2="299.60" stroke="#0a0a0a" stroke-width="1.3"/>
<line x1="483.57" y1="290.60" x2="483.57" y2="295.10" stroke="#333" stroke-width="0.9"/>
<line x1="494.00" y1="290.60" x2="494.00" y2="299.60" stroke="#0a0a0a" stroke-width="1.3"/>
<line x1="504.42" y1="290.60" x2="504.42" y2="295.10" stroke="#333" stroke-width="0.9"/>
<line x1="514.85" y1="290.60" x2="514.85" y2="299.60" stroke="#0a0a0a" stroke-width="1.3"/>
<line x1="525.27" y1="290.60" x2="525.27" y2="295.10" stroke="#333" stroke-width="0.9"/>
<line x1="535.70" y1="290.60" x2="535.70" y2="299.60" stroke="#0a0a0a" stroke-width="1.3"/>
<line x1="546.12" y1="290.60" x2="546.12" y2="295.10" stroke="#333" stroke-width="0.9"/>
<line x1="556.55" y1="290.60" x2="556.55" y2="299.60" stroke="#0a0a0a" stroke-width="1.3"/>
<line x1="582.40" y1="290.60" x2="582.40" y2="299.60" stroke="#0a0a0a" stroke-width="1.3"/>
<line x1="592.82" y1="290.60" x2="592.82" y2="295.10" stroke="#333" stroke-width="0.9"/>
<line x1="603.25" y1="290.60" x2="603.25" y2="299.60" stroke="#0a0a0a" stroke-width="1.3"/>
<line x1="613.67" y1="290.60" x2="613.67" y2="295.10" stroke="#333" stroke-width="0.9"/>
<line x1="624.10" y1="290.60" x2="624.10" y2="299.60" stroke="#0a0a0a" stroke-width="1.3"/>
<line x1="634.52" y1="290.60" x2="634.52" y2="295.10" stroke="#333" stroke-width="0.9"/>
<line x1="644.95" y1="290.60" x2="644.95" y2="299.60" stroke="#0a0a0a" stroke-width="1.3"/>
<line x1="655.37" y1="290.60" x2="655.37" y2="295.10" stroke="#333" stroke-width="0.9"/>
<line x1="665.80" y1="290.60" x2="665.80" y2="299.60" stroke="#0a0a0a" stroke-width="1.3"/>
<line x1="556.30" y1="290.60" x2="556.30" y2="299.60" stroke="#0a0a0a" stroke-width="1.3"/>
<g transform="translate(478.10,305.80) rotate(-30)">
<text y="4.39" font-size="12.87" fill="#0c0c8c"><tspan x="-11.64" textLength="7.76" lengthAdjust="spacingAndGlyphs">2</tspan><tspan x="-3.88" textLength="7.76" lengthAdjust="spacingAndGlyphs">0</tspan><tspan x="3.88" textLength="7.76" lengthAdjust="spacingAndGlyphs">0</tspan></text>
</g>
<g transform="translate(498.95,305.80) rotate(-30)">
<text y="4.39" font-size="12.87" fill="#0c0c8c"><tspan x="-11.64" textLength="7.76" lengthAdjust="spacingAndGlyphs">4</tspan><tspan x="-3.88" textLength="7.76" lengthAdjust="spacingAndGlyphs">0</tspan><tspan x="3.88" textLength="7.76" lengthAdjust="spacingAndGlyphs">0</tspan></text>
</g>
<g transform="translate(519.80,305.80) rotate(-30)">
<text y="4.39" font-size="12.87" fill="#0c0c8c"><tspan x="-11.64" textLength="7.76" lengthAdjust="spacingAndGlyphs">6</tspan><tspan x="-3.88" textLength="7.76" lengthAdjust="spacingAndGlyphs">0</tspan><tspan x="3.88" textLength="7.76" lengthAdjust="spacingAndGlyphs">0</tspan></text>
</g>
<g transform="translate(540.65,305.80) rotate(-30)">
<text y="4.39" font-size="12.87" fill="#0c0c8c"><tspan x="-11.64" textLength="7.76" lengthAdjust="spacingAndGlyphs">8</tspan><tspan x="-3.88" textLength="7.76" lengthAdjust="spacingAndGlyphs">0</tspan><tspan x="3.88" textLength="7.76" lengthAdjust="spacingAndGlyphs">0</tspan></text>
</g>
<g transform="translate(608.30,305.80) rotate(-30)">
<text y="4.39" font-size="12.87" fill="#0c0c8c"><tspan x="-11.64" textLength="7.76" lengthAdjust="spacingAndGlyphs">2</tspan><tspan x="-3.88" textLength="7.76" lengthAdjust="spacingAndGlyphs">0</tspan><tspan x="3.88" textLength="7.76" lengthAdjust="spacingAndGlyphs">0</tspan></text>
</g>
<g transform="translate(629.15,305.80) rotate(-30)">
<text y="4.39" font-size="12.87" fill="#0c0c8c"><tspan x="-11.64" textLength="7.76" lengthAdjust="spacingAndGlyphs">4</tspan><tspan x="-3.88" textLength="7.76" lengthAdjust="spacingAndGlyphs">0</tspan><tspan x="3.88" textLength="7.76" lengthAdjust="spacingAndGlyphs">0</tspan></text>
</g>
<g transform="translate(650.00,305.80) rotate(-30)">
<text y="4.39" font-size="12.87" fill="#0c0c8c"><tspan x="-11.64" textLength="7.76" lengthAdjust="spacingAndGlyphs">6</tspan><tspan x="-3.88" textLength="7.76" lengthAdjust="spacingAndGlyphs">0</tspan><tspan x="3.88" textLength="7.76" lengthAdjust="spacingAndGlyphs">0</tspan></text>
</g>
<g transform="translate(670.85,305.80) rotate(-30)">
<text y="4.39" font-size="12.87" fill="#0c0c8c"><tspan x="-11.64" textLength="7.76" lengthAdjust="spacingAndGlyphs">8</tspan><tspan x="-3.88" textLength="7.76" lengthAdjust="spacingAndGlyphs">0</tspan><tspan x="3.88" textLength="7.76" lengthAdjust="spacingAndGlyphs">0</tspan></text>
</g>
<g transform="translate(563.90,304.80) rotate(-30)">
<text y="4.39" font-size="12.87" fill="#0c0c8c"><tspan x="-15.52" textLength="7.76" lengthAdjust="spacingAndGlyphs">1</tspan><tspan x="-7.76" textLength="7.76" lengthAdjust="spacingAndGlyphs">0</tspan><tspan x="0.00" textLength="7.76" lengthAdjust="spacingAndGlyphs">0</tspan><tspan x="7.76" textLength="7.76" lengthAdjust="spacingAndGlyphs">0</tspan></text>
</g>
<g transform="translate(451.75,308.50) rotate(-10)">
<text y="4.39" font-size="12.87" fill="#0c0c8c"><tspan x="-3.88" textLength="7.76" lengthAdjust="spacingAndGlyphs">0</tspan></text>
</g>
<g transform="translate(582.20,308.50) rotate(-10)">
<text y="4.39" font-size="12.87" fill="#0c0c8c"><tspan x="-3.88" textLength="7.76" lengthAdjust="spacingAndGlyphs">0</tspan></text>
</g>
<line x1="452.00" y1="319.90" x2="479.10" y2="319.90" stroke="#0c0c8c" stroke-width="1.5" stroke-dasharray="3.4 1.5"/>
<path d="M484.10 319.90 L478.60 316.70 L478.60 323.10 Z" fill="#0c0c8c"/>
<line x1="583.00" y1="319.90" x2="610.50" y2="319.90" stroke="#0c0c8c" stroke-width="1.5" stroke-dasharray="3.4 1.5"/>
<path d="M615.50 319.90 L610.00 316.70 L610.00 323.10 Z" fill="#0c0c8c"/>
<text y="332.90" font-size="9.62" fill="#0c0c8c"><tspan x="447.21" textLength="7.80" lengthAdjust="spacingAndGlyphs">M</tspan><tspan x="455.01" textLength="5.86" lengthAdjust="spacingAndGlyphs">u</tspan><tspan x="460.86" textLength="2.53" lengthAdjust="spacingAndGlyphs">l</tspan><tspan x="463.48" textLength="3.47" lengthAdjust="spacingAndGlyphs">t</tspan><tspan x="467.04" textLength="2.53" lengthAdjust="spacingAndGlyphs">i</tspan><tspan x="469.58" textLength="5.76" lengthAdjust="spacingAndGlyphs">p</tspan><tspan x="475.34" textLength="2.53" lengthAdjust="spacingAndGlyphs">l</tspan><tspan x="477.88" textLength="5.51" lengthAdjust="spacingAndGlyphs">e</tspan></text>
<text y="332.90" font-size="9.62" fill="#0c0c8c"><tspan x="579.01" textLength="7.80" lengthAdjust="spacingAndGlyphs">M</tspan><tspan x="586.81" textLength="5.86" lengthAdjust="spacingAndGlyphs">u</tspan><tspan x="592.66" textLength="2.53" lengthAdjust="spacingAndGlyphs">l</tspan><tspan x="595.28" textLength="3.47" lengthAdjust="spacingAndGlyphs">t</tspan><tspan x="598.84" textLength="2.53" lengthAdjust="spacingAndGlyphs">i</tspan><tspan x="601.38" textLength="5.76" lengthAdjust="spacingAndGlyphs">p</tspan><tspan x="607.14" textLength="2.53" lengthAdjust="spacingAndGlyphs">l</tspan><tspan x="609.68" textLength="5.51" lengthAdjust="spacingAndGlyphs">e</tspan></text>
<text y="349.70" font-size="9.62" fill="#0c0c8c"><tspan x="431.43" textLength="9.00" lengthAdjust="spacingAndGlyphs">m</tspan><tspan x="440.43" textLength="5.61" lengthAdjust="spacingAndGlyphs">o</tspan><tspan x="446.04" textLength="3.95" lengthAdjust="spacingAndGlyphs">r</tspan><tspan x="449.99" textLength="5.51" lengthAdjust="spacingAndGlyphs">e</tspan> <tspan x="458.85" textLength="3.47" lengthAdjust="spacingAndGlyphs">t</tspan><tspan x="462.41" textLength="5.86" lengthAdjust="spacingAndGlyphs">h</tspan><tspan x="468.26" textLength="5.56" lengthAdjust="spacingAndGlyphs">a</tspan><tspan x="473.82" textLength="5.86" lengthAdjust="spacingAndGlyphs">n</tspan> <tspan x="482.93" textLength="7.80" lengthAdjust="spacingAndGlyphs">M</tspan><tspan x="490.70" textLength="5.90" lengthAdjust="spacingAndGlyphs">E</tspan><tspan x="496.57" textLength="5.70" lengthAdjust="spacingAndGlyphs">T</tspan></text>
<text y="349.70" font-size="9.62" fill="#0c0c8c"><tspan x="563.13" textLength="9.00" lengthAdjust="spacingAndGlyphs">m</tspan><tspan x="572.13" textLength="5.61" lengthAdjust="spacingAndGlyphs">o</tspan><tspan x="577.74" textLength="3.95" lengthAdjust="spacingAndGlyphs">r</tspan><tspan x="581.69" textLength="5.51" lengthAdjust="spacingAndGlyphs">e</tspan> <tspan x="590.55" textLength="3.47" lengthAdjust="spacingAndGlyphs">t</tspan><tspan x="594.11" textLength="5.86" lengthAdjust="spacingAndGlyphs">h</tspan><tspan x="599.96" textLength="5.56" lengthAdjust="spacingAndGlyphs">a</tspan><tspan x="605.52" textLength="5.86" lengthAdjust="spacingAndGlyphs">n</tspan> <tspan x="614.63" textLength="7.80" lengthAdjust="spacingAndGlyphs">M</tspan><tspan x="622.40" textLength="5.90" lengthAdjust="spacingAndGlyphs">E</tspan><tspan x="628.27" textLength="5.70" lengthAdjust="spacingAndGlyphs">T</tspan></text>
<text y="368.70" font-size="12.74" fill="#0c0c8c"><tspan x="481.78" textLength="7.82" lengthAdjust="spacingAndGlyphs">E</tspan><tspan x="489.56" textLength="7.75" lengthAdjust="spacingAndGlyphs">n</tspan><tspan x="497.31" textLength="7.30" lengthAdjust="spacingAndGlyphs">e</tspan><tspan x="504.61" textLength="5.23" lengthAdjust="spacingAndGlyphs">r</tspan><tspan x="509.84" textLength="7.63" lengthAdjust="spacingAndGlyphs">g</tspan><tspan x="517.47" textLength="7.25" lengthAdjust="spacingAndGlyphs">y</tspan> <tspan x="528.82" textLength="7.82" lengthAdjust="spacingAndGlyphs">P</tspan><tspan x="536.42" textLength="5.23" lengthAdjust="spacingAndGlyphs">r</tspan><tspan x="541.65" textLength="7.75" lengthAdjust="spacingAndGlyphs">u</tspan><tspan x="549.41" textLength="7.63" lengthAdjust="spacingAndGlyphs">d</tspan><tspan x="557.04" textLength="7.30" lengthAdjust="spacingAndGlyphs">e</tspan><tspan x="564.34" textLength="7.75" lengthAdjust="spacingAndGlyphs">n</tspan><tspan x="572.10" textLength="6.38" lengthAdjust="spacingAndGlyphs">c</tspan><tspan x="578.48" textLength="7.30" lengthAdjust="spacingAndGlyphs">e</tspan> <tspan x="590.37" textLength="4.60" lengthAdjust="spacingAndGlyphs">I</tspan><tspan x="595.25" textLength="7.75" lengthAdjust="spacingAndGlyphs">n</tspan><tspan x="603.00" textLength="7.63" lengthAdjust="spacingAndGlyphs">d</tspan><tspan x="610.63" textLength="7.30" lengthAdjust="spacingAndGlyphs">e</tspan><tspan x="617.93" textLength="7.25" lengthAdjust="spacingAndGlyphs">x</tspan></text>
<text y="105.20" font-size="9.76" fill="#ff6c14"><tspan x="464.08" textLength="6.33" lengthAdjust="spacingAndGlyphs">S</tspan><tspan x="470.41" textLength="9.15" lengthAdjust="spacingAndGlyphs">W</tspan><tspan x="479.48" textLength="5.99" lengthAdjust="spacingAndGlyphs">E</tspan> <tspan x="488.99" textLength="3.52" lengthAdjust="spacingAndGlyphs">[</tspan><tspan x="492.86" textLength="5.88" lengthAdjust="spacingAndGlyphs">3</tspan><tspan x="498.74" textLength="5.88" lengthAdjust="spacingAndGlyphs">2</tspan><tspan x="504.96" textLength="3.52" lengthAdjust="spacingAndGlyphs">]</tspan></text>
<text y="104.60" font-size="9.76" fill="#ff6c14"><tspan x="526.69" textLength="5.99" lengthAdjust="spacingAndGlyphs">E</tspan><tspan x="532.61" textLength="6.33" lengthAdjust="spacingAndGlyphs">S</tspan><tspan x="538.73" textLength="5.99" lengthAdjust="spacingAndGlyphs">P</tspan> <tspan x="548.11" textLength="3.52" lengthAdjust="spacingAndGlyphs">[</tspan><tspan x="551.97" textLength="5.88" lengthAdjust="spacingAndGlyphs">3</tspan><tspan x="557.85" textLength="5.88" lengthAdjust="spacingAndGlyphs">2</tspan><tspan x="564.07" textLength="3.52" lengthAdjust="spacingAndGlyphs">]</tspan></text>
<text y="178.20" font-size="9.76" fill="#ff6c14"><tspan x="476.88" textLength="6.77" lengthAdjust="spacingAndGlyphs">U</tspan><tspan x="483.65" textLength="6.33" lengthAdjust="spacingAndGlyphs">S</tspan><tspan x="489.98" textLength="6.33" lengthAdjust="spacingAndGlyphs">A</tspan> <tspan x="499.90" textLength="3.52" lengthAdjust="spacingAndGlyphs">[</tspan><tspan x="503.76" textLength="5.88" lengthAdjust="spacingAndGlyphs">3</tspan><tspan x="509.64" textLength="5.88" lengthAdjust="spacingAndGlyphs">3</tspan><tspan x="515.86" textLength="3.52" lengthAdjust="spacingAndGlyphs">]</tspan></text>
<text y="115.50" font-size="9.76" fill="#ff6c14"><tspan x="610.34" textLength="6.92" lengthAdjust="spacingAndGlyphs">N</tspan><tspan x="617.26" textLength="5.15" lengthAdjust="spacingAndGlyphs">L</tspan><tspan x="622.41" textLength="7.13" lengthAdjust="spacingAndGlyphs">D</tspan> <tspan x="633.13" textLength="3.52" lengthAdjust="spacingAndGlyphs">[</tspan><tspan x="637.00" textLength="5.88" lengthAdjust="spacingAndGlyphs">3</tspan><tspan x="642.88" textLength="5.88" lengthAdjust="spacingAndGlyphs">4</tspan><tspan x="649.10" textLength="3.52" lengthAdjust="spacingAndGlyphs">]</tspan></text>
<text y="142.00" font-size="9.76" fill="#ff6c14"><tspan x="597.69" textLength="6.92" lengthAdjust="spacingAndGlyphs">N</tspan><tspan x="604.61" textLength="5.15" lengthAdjust="spacingAndGlyphs">L</tspan><tspan x="609.76" textLength="7.13" lengthAdjust="spacingAndGlyphs">D</tspan> <tspan x="620.48" textLength="3.52" lengthAdjust="spacingAndGlyphs">[</tspan><tspan x="624.35" textLength="5.88" lengthAdjust="spacingAndGlyphs">3</tspan><tspan x="630.23" textLength="5.88" lengthAdjust="spacingAndGlyphs">4</tspan><tspan x="636.45" textLength="3.52" lengthAdjust="spacingAndGlyphs">]</tspan></text>
<rect x="7" y="385.3" width="678" height="41.8" fill="#e6e6e6"/>
<text y="411.00" font-size="12.74" fill="#0a0a0a"><tspan x="11.66" textLength="7.82" lengthAdjust="spacingAndGlyphs">E</tspan><tspan x="19.44" textLength="7.75" lengthAdjust="spacingAndGlyphs">n</tspan><tspan x="27.19" textLength="7.30" lengthAdjust="spacingAndGlyphs">e</tspan><tspan x="34.49" textLength="5.23" lengthAdjust="spacingAndGlyphs">r</tspan><tspan x="39.72" textLength="7.63" lengthAdjust="spacingAndGlyphs">g</tspan><tspan x="47.36" textLength="7.25" lengthAdjust="spacingAndGlyphs">y</tspan> <tspan x="58.71" textLength="7.82" lengthAdjust="spacingAndGlyphs">P</tspan><tspan x="66.31" textLength="5.23" lengthAdjust="spacingAndGlyphs">r</tspan><tspan x="71.54" textLength="7.75" lengthAdjust="spacingAndGlyphs">u</tspan><tspan x="79.29" textLength="7.63" lengthAdjust="spacingAndGlyphs">d</tspan><tspan x="86.92" textLength="7.30" lengthAdjust="spacingAndGlyphs">e</tspan><tspan x="94.23" textLength="7.75" lengthAdjust="spacingAndGlyphs">n</tspan><tspan x="101.98" textLength="6.38" lengthAdjust="spacingAndGlyphs">c</tspan><tspan x="108.36" textLength="7.30" lengthAdjust="spacingAndGlyphs">e</tspan> <tspan x="120.25" textLength="4.60" lengthAdjust="spacingAndGlyphs">I</tspan><tspan x="125.13" textLength="7.75" lengthAdjust="spacingAndGlyphs">n</tspan><tspan x="132.89" textLength="7.63" lengthAdjust="spacingAndGlyphs">d</tspan><tspan x="140.52" textLength="7.30" lengthAdjust="spacingAndGlyphs">e</tspan><tspan x="147.82" textLength="7.25" lengthAdjust="spacingAndGlyphs">x</tspan> <tspan x="159.56" textLength="9.67" lengthAdjust="spacingAndGlyphs">=</tspan></text>
<text y="399.00" font-size="12.74" fill="#0a0a0a"><tspan x="190.94" textLength="7.82" lengthAdjust="spacingAndGlyphs">E</tspan><tspan x="198.72" textLength="6.38" lengthAdjust="spacingAndGlyphs">s</tspan><tspan x="205.22" textLength="4.60" lengthAdjust="spacingAndGlyphs">t</tspan><tspan x="209.93" textLength="3.36" lengthAdjust="spacingAndGlyphs">i</tspan><tspan x="213.29" textLength="11.92" lengthAdjust="spacingAndGlyphs">m</tspan><tspan x="225.21" textLength="7.36" lengthAdjust="spacingAndGlyphs">a</tspan><tspan x="232.68" textLength="4.60" lengthAdjust="spacingAndGlyphs">t</tspan><tspan x="237.40" textLength="7.30" lengthAdjust="spacingAndGlyphs">e</tspan><tspan x="244.70" textLength="7.63" lengthAdjust="spacingAndGlyphs">d</tspan> <tspan x="256.60" textLength="7.82" lengthAdjust="spacingAndGlyphs">E</tspan><tspan x="264.38" textLength="7.75" lengthAdjust="spacingAndGlyphs">n</tspan><tspan x="272.14" textLength="7.30" lengthAdjust="spacingAndGlyphs">e</tspan><tspan x="279.44" textLength="5.23" lengthAdjust="spacingAndGlyphs">r</tspan><tspan x="284.67" textLength="7.63" lengthAdjust="spacingAndGlyphs">g</tspan><tspan x="292.30" textLength="7.25" lengthAdjust="spacingAndGlyphs">y</tspan> <tspan x="303.86" textLength="8.97" lengthAdjust="spacingAndGlyphs">U</tspan><tspan x="312.83" textLength="6.38" lengthAdjust="spacingAndGlyphs">s</tspan><tspan x="319.21" textLength="7.30" lengthAdjust="spacingAndGlyphs">e</tspan><tspan x="326.54" textLength="5.52" lengthAdjust="spacingAndGlyphs">-</tspan><tspan x="331.86" textLength="7.82" lengthAdjust="spacingAndGlyphs">P</tspan><tspan x="339.46" textLength="5.23" lengthAdjust="spacingAndGlyphs">r</tspan><tspan x="344.69" textLength="7.44" lengthAdjust="spacingAndGlyphs">o</tspan><tspan x="352.13" textLength="7.63" lengthAdjust="spacingAndGlyphs">d</tspan><tspan x="359.76" textLength="7.75" lengthAdjust="spacingAndGlyphs">u</tspan><tspan x="367.51" textLength="6.38" lengthAdjust="spacingAndGlyphs">c</tspan><tspan x="374.01" textLength="4.60" lengthAdjust="spacingAndGlyphs">t</tspan><tspan x="378.72" textLength="3.36" lengthAdjust="spacingAndGlyphs">i</tspan><tspan x="382.08" textLength="7.25" lengthAdjust="spacingAndGlyphs">v</tspan><tspan x="389.33" textLength="3.36" lengthAdjust="spacingAndGlyphs">i</tspan><tspan x="392.80" textLength="4.60" lengthAdjust="spacingAndGlyphs">t</tspan><tspan x="397.52" textLength="7.25" lengthAdjust="spacingAndGlyphs">y</tspan> <tspan x="409.10" textLength="5.52" lengthAdjust="spacingAndGlyphs">-</tspan> <tspan x="418.95" textLength="10.33" lengthAdjust="spacingAndGlyphs">M</tspan><tspan x="429.28" textLength="7.36" lengthAdjust="spacingAndGlyphs">a</tspan><tspan x="436.64" textLength="7.25" lengthAdjust="spacingAndGlyphs">x</tspan><tspan x="443.89" textLength="3.36" lengthAdjust="spacingAndGlyphs">i</tspan><tspan x="447.25" textLength="11.92" lengthAdjust="spacingAndGlyphs">m</tspan><tspan x="459.17" textLength="7.75" lengthAdjust="spacingAndGlyphs">u</tspan><tspan x="466.92" textLength="11.92" lengthAdjust="spacingAndGlyphs">m</tspan> <tspan x="483.12" textLength="7.82" lengthAdjust="spacingAndGlyphs">E</tspan><tspan x="490.90" textLength="7.75" lengthAdjust="spacingAndGlyphs">n</tspan><tspan x="498.65" textLength="7.30" lengthAdjust="spacingAndGlyphs">e</tspan><tspan x="505.95" textLength="5.23" lengthAdjust="spacingAndGlyphs">r</tspan><tspan x="511.18" textLength="7.63" lengthAdjust="spacingAndGlyphs">g</tspan><tspan x="518.81" textLength="7.25" lengthAdjust="spacingAndGlyphs">y</tspan><tspan x="526.09" textLength="5.52" lengthAdjust="spacingAndGlyphs">-</tspan><tspan x="531.63" textLength="7.75" lengthAdjust="spacingAndGlyphs">u</tspan><tspan x="539.38" textLength="6.38" lengthAdjust="spacingAndGlyphs">s</tspan><tspan x="545.76" textLength="7.30" lengthAdjust="spacingAndGlyphs">e</tspan> <tspan x="557.38" textLength="7.55" lengthAdjust="spacingAndGlyphs">T</tspan><tspan x="564.92" textLength="7.75" lengthAdjust="spacingAndGlyphs">h</tspan><tspan x="572.68" textLength="5.23" lengthAdjust="spacingAndGlyphs">r</tspan><tspan x="577.91" textLength="7.30" lengthAdjust="spacingAndGlyphs">e</tspan><tspan x="585.21" textLength="6.38" lengthAdjust="spacingAndGlyphs">s</tspan><tspan x="591.59" textLength="7.75" lengthAdjust="spacingAndGlyphs">h</tspan><tspan x="599.35" textLength="7.44" lengthAdjust="spacingAndGlyphs">o</tspan><tspan x="606.78" textLength="3.36" lengthAdjust="spacingAndGlyphs">l</tspan><tspan x="610.14" textLength="7.63" lengthAdjust="spacingAndGlyphs">d</tspan> <tspan x="622.11" textLength="5.52" lengthAdjust="spacingAndGlyphs">(</tspan><tspan x="627.64" textLength="10.33" lengthAdjust="spacingAndGlyphs">M</tspan><tspan x="637.93" textLength="7.82" lengthAdjust="spacingAndGlyphs">E</tspan><tspan x="645.71" textLength="7.55" lengthAdjust="spacingAndGlyphs">T</tspan><tspan x="653.28" textLength="5.52" lengthAdjust="spacingAndGlyphs">)</tspan></text>
<line x1="172.50" y1="406.70" x2="681.90" y2="406.70" stroke="#0a0a0a" stroke-width="1.4"/>
<text y="420.80" font-size="12.74" fill="#0a0a0a"><tspan x="308.52" textLength="10.33" lengthAdjust="spacingAndGlyphs">M</tspan><tspan x="318.84" textLength="7.36" lengthAdjust="spacingAndGlyphs">a</tspan><tspan x="326.21" textLength="7.25" lengthAdjust="spacingAndGlyphs">x</tspan><tspan x="333.46" textLength="3.36" lengthAdjust="spacingAndGlyphs">i</tspan><tspan x="336.81" textLength="11.92" lengthAdjust="spacingAndGlyphs">m</tspan><tspan x="348.73" textLength="7.75" lengthAdjust="spacingAndGlyphs">u</tspan><tspan x="356.49" textLength="11.92" lengthAdjust="spacingAndGlyphs">m</tspan> <tspan x="372.68" textLength="7.82" lengthAdjust="spacingAndGlyphs">E</tspan><tspan x="380.46" textLength="7.75" lengthAdjust="spacingAndGlyphs">n</tspan><tspan x="388.21" textLength="7.30" lengthAdjust="spacingAndGlyphs">e</tspan><tspan x="395.52" textLength="5.23" lengthAdjust="spacingAndGlyphs">r</tspan><tspan x="400.75" textLength="7.63" lengthAdjust="spacingAndGlyphs">g</tspan><tspan x="408.38" textLength="7.25" lengthAdjust="spacingAndGlyphs">y</tspan><tspan x="415.65" textLength="5.52" lengthAdjust="spacingAndGlyphs">-</tspan><tspan x="421.19" textLength="7.75" lengthAdjust="spacingAndGlyphs">u</tspan><tspan x="428.95" textLength="6.38" lengthAdjust="spacingAndGlyphs">s</tspan><tspan x="435.33" textLength="7.30" lengthAdjust="spacingAndGlyphs">e</tspan> <tspan x="446.94" textLength="7.55" lengthAdjust="spacingAndGlyphs">T</tspan><tspan x="454.49" textLength="7.75" lengthAdjust="spacingAndGlyphs">h</tspan><tspan x="462.24" textLength="5.23" lengthAdjust="spacingAndGlyphs">r</tspan><tspan x="467.47" textLength="7.30" lengthAdjust="spacingAndGlyphs">e</tspan><tspan x="474.77" textLength="6.38" lengthAdjust="spacingAndGlyphs">s</tspan><tspan x="481.16" textLength="7.75" lengthAdjust="spacingAndGlyphs">h</tspan><tspan x="488.91" textLength="7.44" lengthAdjust="spacingAndGlyphs">o</tspan><tspan x="496.35" textLength="3.36" lengthAdjust="spacingAndGlyphs">l</tspan><tspan x="499.70" textLength="7.63" lengthAdjust="spacingAndGlyphs">d</tspan> <tspan x="511.67" textLength="5.52" lengthAdjust="spacingAndGlyphs">(</tspan><tspan x="517.21" textLength="10.33" lengthAdjust="spacingAndGlyphs">M</tspan><tspan x="527.50" textLength="7.82" lengthAdjust="spacingAndGlyphs">E</tspan><tspan x="535.28" textLength="7.55" lengthAdjust="spacingAndGlyphs">T</tspan><tspan x="542.85" textLength="5.52" lengthAdjust="spacingAndGlyphs">)</tspan></text>
<rect x="88.6" y="451.7" width="560.4" height="67.3" fill="#e2d9d9"/>
<rect x="89" y="435" width="560" height="16.8" fill="#ffeaa0"/>
<text y="448.10" font-size="12.79" fill="#0a0a0a"><tspan x="95.47" textLength="8.59" lengthAdjust="spacingAndGlyphs">C</tspan><tspan x="104.05" textLength="7.47" lengthAdjust="spacingAndGlyphs">o</tspan><tspan x="111.52" textLength="7.79" lengthAdjust="spacingAndGlyphs">u</tspan><tspan x="119.31" textLength="7.79" lengthAdjust="spacingAndGlyphs">n</tspan><tspan x="127.21" textLength="4.62" lengthAdjust="spacingAndGlyphs">t</tspan><tspan x="131.94" textLength="5.25" lengthAdjust="spacingAndGlyphs">r</tspan><tspan x="137.19" textLength="7.28" lengthAdjust="spacingAndGlyphs">y</tspan> <tspan x="148.80" textLength="8.59" lengthAdjust="spacingAndGlyphs">C</tspan><tspan x="157.39" textLength="7.47" lengthAdjust="spacingAndGlyphs">o</tspan><tspan x="164.85" textLength="7.66" lengthAdjust="spacingAndGlyphs">d</tspan><tspan x="172.52" textLength="7.33" lengthAdjust="spacingAndGlyphs">e</tspan><tspan x="180.33" textLength="4.62" lengthAdjust="spacingAndGlyphs">:</tspan></text>
<text y="462.60" font-size="12.79" fill="#0a0a0a"><tspan x="95.67" textLength="8.59" lengthAdjust="spacingAndGlyphs">C</tspan><tspan x="104.26" textLength="8.41" lengthAdjust="spacingAndGlyphs">A</tspan><tspan x="112.67" textLength="9.20" lengthAdjust="spacingAndGlyphs">N</tspan> <tspan x="126.23" textLength="5.54" lengthAdjust="spacingAndGlyphs">-</tspan> <tspan x="136.12" textLength="8.59" lengthAdjust="spacingAndGlyphs">C</tspan><tspan x="144.70" textLength="7.39" lengthAdjust="spacingAndGlyphs">a</tspan><tspan x="152.09" textLength="7.79" lengthAdjust="spacingAndGlyphs">n</tspan><tspan x="159.88" textLength="7.39" lengthAdjust="spacingAndGlyphs">a</tspan><tspan x="167.27" textLength="7.66" lengthAdjust="spacingAndGlyphs">d</tspan><tspan x="174.93" textLength="7.39" lengthAdjust="spacingAndGlyphs">a</tspan></text>
<text y="477.80" font-size="12.79" fill="#0a0a0a"><tspan x="95.73" textLength="7.85" lengthAdjust="spacingAndGlyphs">E</tspan><tspan x="103.54" textLength="8.41" lengthAdjust="spacingAndGlyphs">S</tspan><tspan x="111.73" textLength="7.85" lengthAdjust="spacingAndGlyphs">P</tspan> <tspan x="123.72" textLength="5.54" lengthAdjust="spacingAndGlyphs">-</tspan> <tspan x="133.61" textLength="8.41" lengthAdjust="spacingAndGlyphs">S</tspan><tspan x="142.02" textLength="7.66" lengthAdjust="spacingAndGlyphs">p</tspan><tspan x="149.69" textLength="7.39" lengthAdjust="spacingAndGlyphs">a</tspan><tspan x="157.08" textLength="3.37" lengthAdjust="spacingAndGlyphs">i</tspan><tspan x="160.45" textLength="7.79" lengthAdjust="spacingAndGlyphs">n</tspan></text>
<text y="493.80" font-size="12.79" fill="#0a0a0a"><tspan x="95.94" textLength="4.62" lengthAdjust="spacingAndGlyphs">I</tspan><tspan x="100.84" textLength="8.55" lengthAdjust="spacingAndGlyphs">R</tspan><tspan x="109.39" textLength="9.20" lengthAdjust="spacingAndGlyphs">N</tspan> <tspan x="122.94" textLength="5.54" lengthAdjust="spacingAndGlyphs">-</tspan> <tspan x="133.11" textLength="4.62" lengthAdjust="spacingAndGlyphs">I</tspan><tspan x="138.01" textLength="5.25" lengthAdjust="spacingAndGlyphs">r</tspan><tspan x="143.26" textLength="7.39" lengthAdjust="spacingAndGlyphs">a</tspan><tspan x="150.65" textLength="7.79" lengthAdjust="spacingAndGlyphs">n</tspan></text>
<text y="465.10" font-size="12.79" fill="#0a0a0a"><tspan x="210.96" textLength="5.88" lengthAdjust="spacingAndGlyphs">J</tspan><tspan x="216.70" textLength="8.41" lengthAdjust="spacingAndGlyphs">A</tspan><tspan x="224.89" textLength="7.85" lengthAdjust="spacingAndGlyphs">P</tspan> <tspan x="236.88" textLength="5.54" lengthAdjust="spacingAndGlyphs">-</tspan> <tspan x="246.63" textLength="5.88" lengthAdjust="spacingAndGlyphs">J</tspan><tspan x="252.37" textLength="7.39" lengthAdjust="spacingAndGlyphs">a</tspan><tspan x="259.76" textLength="7.66" lengthAdjust="spacingAndGlyphs">p</tspan><tspan x="267.42" textLength="7.39" lengthAdjust="spacingAndGlyphs">a</tspan><tspan x="274.81" textLength="7.79" lengthAdjust="spacingAndGlyphs">n</tspan></text>
<text y="480.40" font-size="12.79" fill="#0a0a0a"><tspan x="210.30" textLength="9.20" lengthAdjust="spacingAndGlyphs">N</tspan><tspan x="219.50" textLength="6.85" lengthAdjust="spacingAndGlyphs">L</tspan><tspan x="226.35" textLength="9.48" lengthAdjust="spacingAndGlyphs">D</tspan> <tspan x="240.19" textLength="5.54" lengthAdjust="spacingAndGlyphs">-</tspan> <tspan x="250.08" textLength="9.20" lengthAdjust="spacingAndGlyphs">N</tspan><tspan x="259.28" textLength="7.33" lengthAdjust="spacingAndGlyphs">e</tspan><tspan x="266.72" textLength="4.62" lengthAdjust="spacingAndGlyphs">t</tspan><tspan x="271.46" textLength="7.79" lengthAdjust="spacingAndGlyphs">h</tspan><tspan x="279.24" textLength="7.33" lengthAdjust="spacingAndGlyphs">e</tspan><tspan x="286.57" textLength="5.25" lengthAdjust="spacingAndGlyphs">r</tspan><tspan x="291.82" textLength="3.37" lengthAdjust="spacingAndGlyphs">l</tspan><tspan x="295.19" textLength="7.39" lengthAdjust="spacingAndGlyphs">a</tspan><tspan x="302.59" textLength="7.79" lengthAdjust="spacingAndGlyphs">n</tspan><tspan x="310.37" textLength="7.66" lengthAdjust="spacingAndGlyphs">d</tspan><tspan x="318.04" textLength="6.41" lengthAdjust="spacingAndGlyphs">s</tspan> <tspan x="328.80" textLength="5.54" lengthAdjust="spacingAndGlyphs">(</tspan><tspan x="334.36" textLength="8.52" lengthAdjust="spacingAndGlyphs">K</tspan><tspan x="342.88" textLength="3.37" lengthAdjust="spacingAndGlyphs">i</tspan><tspan x="346.25" textLength="7.79" lengthAdjust="spacingAndGlyphs">n</tspan><tspan x="354.04" textLength="7.66" lengthAdjust="spacingAndGlyphs">g</tspan><tspan x="361.70" textLength="7.66" lengthAdjust="spacingAndGlyphs">d</tspan><tspan x="369.36" textLength="7.47" lengthAdjust="spacingAndGlyphs">o</tspan><tspan x="376.83" textLength="11.97" lengthAdjust="spacingAndGlyphs">m</tspan> <tspan x="393.13" textLength="7.47" lengthAdjust="spacingAndGlyphs">o</tspan><tspan x="400.59" textLength="4.33" lengthAdjust="spacingAndGlyphs">f</tspan> <tspan x="409.37" textLength="4.62" lengthAdjust="spacingAndGlyphs">t</tspan><tspan x="414.10" textLength="7.79" lengthAdjust="spacingAndGlyphs">h</tspan><tspan x="421.88" textLength="7.33" lengthAdjust="spacingAndGlyphs">e</tspan><tspan x="429.24" textLength="5.54" lengthAdjust="spacingAndGlyphs">)</tspan></text>
<text y="495.60" font-size="12.79" fill="#0a0a0a"><tspan x="210.59" textLength="8.41" lengthAdjust="spacingAndGlyphs">S</tspan><tspan x="219.01" textLength="8.41" lengthAdjust="spacingAndGlyphs">A</tspan><tspan x="227.42" textLength="9.00" lengthAdjust="spacingAndGlyphs">U</tspan> <tspan x="240.78" textLength="5.54" lengthAdjust="spacingAndGlyphs">-</tspan> <tspan x="250.67" textLength="8.41" lengthAdjust="spacingAndGlyphs">S</tspan><tspan x="259.08" textLength="7.39" lengthAdjust="spacingAndGlyphs">a</tspan><tspan x="266.47" textLength="7.79" lengthAdjust="spacingAndGlyphs">u</tspan><tspan x="274.26" textLength="7.66" lengthAdjust="spacingAndGlyphs">d</tspan><tspan x="281.92" textLength="3.37" lengthAdjust="spacingAndGlyphs">i</tspan> <tspan x="289.62" textLength="8.41" lengthAdjust="spacingAndGlyphs">A</tspan><tspan x="298.04" textLength="5.25" lengthAdjust="spacingAndGlyphs">r</tspan><tspan x="303.29" textLength="7.39" lengthAdjust="spacingAndGlyphs">a</tspan><tspan x="310.68" textLength="7.66" lengthAdjust="spacingAndGlyphs">b</tspan><tspan x="318.34" textLength="3.37" lengthAdjust="spacingAndGlyphs">i</tspan><tspan x="321.71" textLength="7.39" lengthAdjust="spacingAndGlyphs">a</tspan></text>
<text y="462.50" font-size="12.79" fill="#0a0a0a"><tspan x="444.83" textLength="8.41" lengthAdjust="spacingAndGlyphs">S</tspan><tspan x="453.24" textLength="9.53" lengthAdjust="spacingAndGlyphs">G</tspan><tspan x="462.56" textLength="7.85" lengthAdjust="spacingAndGlyphs">P</tspan> <tspan x="474.54" textLength="5.54" lengthAdjust="spacingAndGlyphs">-</tspan> <tspan x="484.43" textLength="8.41" lengthAdjust="spacingAndGlyphs">S</tspan><tspan x="492.85" textLength="3.37" lengthAdjust="spacingAndGlyphs">i</tspan><tspan x="496.22" textLength="7.79" lengthAdjust="spacingAndGlyphs">n</tspan><tspan x="504.00" textLength="7.66" lengthAdjust="spacingAndGlyphs">g</tspan><tspan x="511.67" textLength="7.39" lengthAdjust="spacingAndGlyphs">a</tspan><tspan x="519.06" textLength="7.66" lengthAdjust="spacingAndGlyphs">p</tspan><tspan x="526.72" textLength="7.47" lengthAdjust="spacingAndGlyphs">o</tspan><tspan x="534.19" textLength="5.25" lengthAdjust="spacingAndGlyphs">r</tspan><tspan x="539.44" textLength="7.33" lengthAdjust="spacingAndGlyphs">e</tspan></text>
<text y="477.80" font-size="12.79" fill="#0a0a0a"><tspan x="444.81" textLength="8.41" lengthAdjust="spacingAndGlyphs">S</tspan><tspan x="453.22" textLength="12.16" lengthAdjust="spacingAndGlyphs">W</tspan><tspan x="465.35" textLength="7.85" lengthAdjust="spacingAndGlyphs">E</tspan> <tspan x="477.51" textLength="5.54" lengthAdjust="spacingAndGlyphs">-</tspan> <tspan x="487.40" textLength="8.41" lengthAdjust="spacingAndGlyphs">S</tspan><tspan x="495.82" textLength="10.06" lengthAdjust="spacingAndGlyphs">w</tspan><tspan x="505.88" textLength="7.33" lengthAdjust="spacingAndGlyphs">e</tspan><tspan x="513.21" textLength="7.66" lengthAdjust="spacingAndGlyphs">d</tspan><tspan x="520.87" textLength="7.33" lengthAdjust="spacingAndGlyphs">e</tspan><tspan x="528.20" textLength="7.79" lengthAdjust="spacingAndGlyphs">n</tspan></text>
<text y="493.00" font-size="12.79" fill="#0a0a0a"><tspan x="444.67" textLength="9.00" lengthAdjust="spacingAndGlyphs">U</tspan><tspan x="453.68" textLength="8.41" lengthAdjust="spacingAndGlyphs">A</tspan><tspan x="462.05" textLength="7.85" lengthAdjust="spacingAndGlyphs">E</tspan> <tspan x="474.22" textLength="5.54" lengthAdjust="spacingAndGlyphs">-</tspan> <tspan x="484.11" textLength="9.00" lengthAdjust="spacingAndGlyphs">U</tspan><tspan x="493.11" textLength="7.79" lengthAdjust="spacingAndGlyphs">n</tspan><tspan x="500.90" textLength="3.37" lengthAdjust="spacingAndGlyphs">i</tspan><tspan x="504.38" textLength="4.62" lengthAdjust="spacingAndGlyphs">t</tspan><tspan x="509.11" textLength="7.33" lengthAdjust="spacingAndGlyphs">e</tspan><tspan x="516.44" textLength="7.66" lengthAdjust="spacingAndGlyphs">d</tspan> <tspan x="528.44" textLength="8.41" lengthAdjust="spacingAndGlyphs">A</tspan><tspan x="536.85" textLength="5.25" lengthAdjust="spacingAndGlyphs">r</tspan><tspan x="542.10" textLength="7.39" lengthAdjust="spacingAndGlyphs">a</tspan><tspan x="549.49" textLength="7.66" lengthAdjust="spacingAndGlyphs">b</tspan> <tspan x="561.45" textLength="7.85" lengthAdjust="spacingAndGlyphs">E</tspan><tspan x="569.26" textLength="11.97" lengthAdjust="spacingAndGlyphs">m</tspan><tspan x="581.23" textLength="3.37" lengthAdjust="spacingAndGlyphs">i</tspan><tspan x="584.60" textLength="5.25" lengthAdjust="spacingAndGlyphs">r</tspan><tspan x="589.85" textLength="7.39" lengthAdjust="spacingAndGlyphs">a</tspan><tspan x="597.35" textLength="4.62" lengthAdjust="spacingAndGlyphs">t</tspan><tspan x="602.09" textLength="7.33" lengthAdjust="spacingAndGlyphs">e</tspan><tspan x="609.42" textLength="6.41" lengthAdjust="spacingAndGlyphs">s</tspan></text>
<text y="508.50" font-size="12.79" fill="#0a0a0a"><tspan x="444.74" textLength="9.00" lengthAdjust="spacingAndGlyphs">U</tspan><tspan x="453.74" textLength="8.41" lengthAdjust="spacingAndGlyphs">S</tspan><tspan x="462.15" textLength="8.41" lengthAdjust="spacingAndGlyphs">A</tspan> <tspan x="474.92" textLength="5.54" lengthAdjust="spacingAndGlyphs">-</tspan> <tspan x="484.81" textLength="9.00" lengthAdjust="spacingAndGlyphs">U</tspan><tspan x="493.81" textLength="7.79" lengthAdjust="spacingAndGlyphs">n</tspan><tspan x="501.60" textLength="3.37" lengthAdjust="spacingAndGlyphs">i</tspan><tspan x="505.08" textLength="4.62" lengthAdjust="spacingAndGlyphs">t</tspan><tspan x="509.81" textLength="7.33" lengthAdjust="spacingAndGlyphs">e</tspan><tspan x="517.15" textLength="7.66" lengthAdjust="spacingAndGlyphs">d</tspan> <tspan x="529.14" textLength="8.41" lengthAdjust="spacingAndGlyphs">S</tspan><tspan x="537.66" textLength="4.62" lengthAdjust="spacingAndGlyphs">t</tspan><tspan x="542.40" textLength="7.39" lengthAdjust="spacingAndGlyphs">a</tspan><tspan x="549.90" textLength="4.62" lengthAdjust="spacingAndGlyphs">t</tspan><tspan x="554.64" textLength="7.33" lengthAdjust="spacingAndGlyphs">e</tspan><tspan x="561.97" textLength="6.41" lengthAdjust="spacingAndGlyphs">s</tspan> <tspan x="572.70" textLength="7.47" lengthAdjust="spacingAndGlyphs">o</tspan><tspan x="580.17" textLength="4.33" lengthAdjust="spacingAndGlyphs">f</tspan> <tspan x="588.83" textLength="8.41" lengthAdjust="spacingAndGlyphs">A</tspan><tspan x="597.24" textLength="11.97" lengthAdjust="spacingAndGlyphs">m</tspan><tspan x="609.21" textLength="7.33" lengthAdjust="spacingAndGlyphs">e</tspan><tspan x="616.54" textLength="5.25" lengthAdjust="spacingAndGlyphs">r</tspan><tspan x="621.79" textLength="3.37" lengthAdjust="spacingAndGlyphs">i</tspan><tspan x="625.16" textLength="6.41" lengthAdjust="spacingAndGlyphs">c</tspan><tspan x="631.57" textLength="7.39" lengthAdjust="spacingAndGlyphs">a</tspan></text>
</svg>
</body></html>
